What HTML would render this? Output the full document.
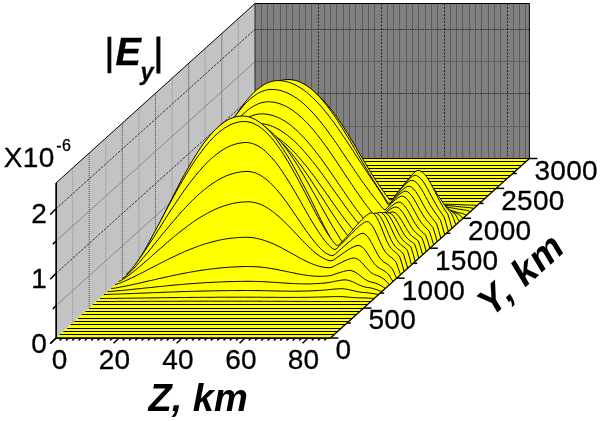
<!DOCTYPE html><html><head><meta charset="utf-8"><title>Ey</title><style>html,body{margin:0;padding:0;background:#fff}svg{display:block;will-change:transform}text{font-family:"Liberation Sans",sans-serif;fill:#000}.r{stroke:#000;stroke-width:0.3px;letter-spacing:0.3px}</style></head><body>
<svg width="600" height="421" viewBox="0 0 600 421">
<rect width="600" height="421" fill="#fff"/>
<polygon points="56.0,338.0 56.0,183.0 255.0,3.5 255.0,158.5" fill="#c3c3c3"/>
<rect x="255.0" y="3.5" width="274.4" height="155.0" fill="#808080"/>
<line x1="261.5" y1="3.5" x2="261.5" y2="158.5" stroke="#5c5c5c" stroke-width="1"/>
<line x1="267.5" y1="3.5" x2="267.5" y2="158.5" stroke="#5c5c5c" stroke-width="1"/>
<line x1="273.5" y1="3.5" x2="273.5" y2="158.5" stroke="#5c5c5c" stroke-width="1"/>
<line x1="280.5" y1="3.5" x2="280.5" y2="158.5" stroke="#5c5c5c" stroke-width="1"/>
<line x1="286.5" y1="3.5" x2="286.5" y2="158.5" stroke="#5c5c5c" stroke-width="1"/>
<line x1="292.5" y1="3.5" x2="292.5" y2="158.5" stroke="#5c5c5c" stroke-width="1"/>
<line x1="299.5" y1="3.5" x2="299.5" y2="158.5" stroke="#5c5c5c" stroke-width="1"/>
<line x1="305.5" y1="3.5" x2="305.5" y2="158.5" stroke="#5c5c5c" stroke-width="1"/>
<line x1="311.5" y1="3.5" x2="311.5" y2="158.5" stroke="#5c5c5c" stroke-width="1"/>
<line x1="318.5" y1="3.5" x2="318.5" y2="158.5" stroke="#242424" stroke-width="1" stroke-dasharray="2 1.5"/>
<line x1="324.5" y1="3.5" x2="324.5" y2="158.5" stroke="#5c5c5c" stroke-width="1"/>
<line x1="330.5" y1="3.5" x2="330.5" y2="158.5" stroke="#5c5c5c" stroke-width="1"/>
<line x1="336.5" y1="3.5" x2="336.5" y2="158.5" stroke="#5c5c5c" stroke-width="1"/>
<line x1="343.5" y1="3.5" x2="343.5" y2="158.5" stroke="#5c5c5c" stroke-width="1"/>
<line x1="349.5" y1="3.5" x2="349.5" y2="158.5" stroke="#5c5c5c" stroke-width="1"/>
<line x1="355.5" y1="3.5" x2="355.5" y2="158.5" stroke="#5c5c5c" stroke-width="1"/>
<line x1="362.5" y1="3.5" x2="362.5" y2="158.5" stroke="#5c5c5c" stroke-width="1"/>
<line x1="368.5" y1="3.5" x2="368.5" y2="158.5" stroke="#5c5c5c" stroke-width="1"/>
<line x1="374.5" y1="3.5" x2="374.5" y2="158.5" stroke="#5c5c5c" stroke-width="1"/>
<line x1="381.5" y1="3.5" x2="381.5" y2="158.5" stroke="#242424" stroke-width="1" stroke-dasharray="2 1.5"/>
<line x1="387.5" y1="3.5" x2="387.5" y2="158.5" stroke="#5c5c5c" stroke-width="1"/>
<line x1="393.5" y1="3.5" x2="393.5" y2="158.5" stroke="#5c5c5c" stroke-width="1"/>
<line x1="399.5" y1="3.5" x2="399.5" y2="158.5" stroke="#5c5c5c" stroke-width="1"/>
<line x1="406.5" y1="3.5" x2="406.5" y2="158.5" stroke="#5c5c5c" stroke-width="1"/>
<line x1="412.5" y1="3.5" x2="412.5" y2="158.5" stroke="#5c5c5c" stroke-width="1"/>
<line x1="418.5" y1="3.5" x2="418.5" y2="158.5" stroke="#5c5c5c" stroke-width="1"/>
<line x1="425.5" y1="3.5" x2="425.5" y2="158.5" stroke="#5c5c5c" stroke-width="1"/>
<line x1="431.5" y1="3.5" x2="431.5" y2="158.5" stroke="#5c5c5c" stroke-width="1"/>
<line x1="437.5" y1="3.5" x2="437.5" y2="158.5" stroke="#5c5c5c" stroke-width="1"/>
<line x1="444.5" y1="3.5" x2="444.5" y2="158.5" stroke="#242424" stroke-width="1" stroke-dasharray="2 1.5"/>
<line x1="450.5" y1="3.5" x2="450.5" y2="158.5" stroke="#5c5c5c" stroke-width="1"/>
<line x1="456.5" y1="3.5" x2="456.5" y2="158.5" stroke="#5c5c5c" stroke-width="1"/>
<line x1="462.5" y1="3.5" x2="462.5" y2="158.5" stroke="#5c5c5c" stroke-width="1"/>
<line x1="469.5" y1="3.5" x2="469.5" y2="158.5" stroke="#5c5c5c" stroke-width="1"/>
<line x1="475.5" y1="3.5" x2="475.5" y2="158.5" stroke="#5c5c5c" stroke-width="1"/>
<line x1="481.5" y1="3.5" x2="481.5" y2="158.5" stroke="#5c5c5c" stroke-width="1"/>
<line x1="488.5" y1="3.5" x2="488.5" y2="158.5" stroke="#5c5c5c" stroke-width="1"/>
<line x1="494.5" y1="3.5" x2="494.5" y2="158.5" stroke="#5c5c5c" stroke-width="1"/>
<line x1="500.5" y1="3.5" x2="500.5" y2="158.5" stroke="#5c5c5c" stroke-width="1"/>
<line x1="507.5" y1="3.5" x2="507.5" y2="158.5" stroke="#242424" stroke-width="1" stroke-dasharray="2 1.5"/>
<line x1="513.5" y1="3.5" x2="513.5" y2="158.5" stroke="#5c5c5c" stroke-width="1"/>
<line x1="519.5" y1="3.5" x2="519.5" y2="158.5" stroke="#5c5c5c" stroke-width="1"/>
<line x1="525.5" y1="3.5" x2="525.5" y2="158.5" stroke="#5c5c5c" stroke-width="1"/>
<line x1="255.0" y1="126.5" x2="529.4" y2="126.5" stroke="#606060" stroke-width="1"/>
<line x1="255.0" y1="93.5" x2="529.4" y2="93.5" stroke="#2c2c2c" stroke-width="1" stroke-dasharray="1.5 1"/>
<line x1="255.0" y1="61.5" x2="529.4" y2="61.5" stroke="#606060" stroke-width="1"/>
<line x1="255.0" y1="29.5" x2="529.4" y2="29.5" stroke="#2c2c2c" stroke-width="1" stroke-dasharray="1.5 1"/>
<line x1="72.6" y1="323.0" x2="72.6" y2="168.0" stroke="#8a8a8a" stroke-width="0.9" stroke-dasharray="1 1"/>
<line x1="89.2" y1="308.1" x2="89.2" y2="153.0" stroke="#484848" stroke-width="1" stroke-dasharray="1 1"/>
<line x1="105.8" y1="293.1" x2="105.8" y2="138.1" stroke="#8a8a8a" stroke-width="0.9" stroke-dasharray="1 1"/>
<line x1="122.3" y1="278.2" x2="122.3" y2="123.1" stroke="#484848" stroke-width="1" stroke-dasharray="1 1"/>
<line x1="138.9" y1="263.2" x2="138.9" y2="108.2" stroke="#8a8a8a" stroke-width="0.9" stroke-dasharray="1 1"/>
<line x1="155.5" y1="248.2" x2="155.5" y2="93.2" stroke="#484848" stroke-width="1" stroke-dasharray="1 1"/>
<line x1="172.1" y1="233.3" x2="172.1" y2="78.3" stroke="#8a8a8a" stroke-width="0.9" stroke-dasharray="1 1"/>
<line x1="188.7" y1="218.3" x2="188.7" y2="63.3" stroke="#484848" stroke-width="1" stroke-dasharray="1 1"/>
<line x1="205.2" y1="203.4" x2="205.2" y2="48.3" stroke="#8a8a8a" stroke-width="0.9" stroke-dasharray="1 1"/>
<line x1="221.8" y1="188.4" x2="221.8" y2="33.4" stroke="#484848" stroke-width="1" stroke-dasharray="1 1"/>
<line x1="238.4" y1="173.5" x2="238.4" y2="18.4" stroke="#8a8a8a" stroke-width="0.9" stroke-dasharray="1 1"/>
<line x1="56.0" y1="305.7" x2="255.0" y2="126.2" stroke="#7a7a7a" stroke-width="0.8"/>
<line x1="56.0" y1="273.4" x2="255.0" y2="93.9" stroke="#333" stroke-width="1" stroke-dasharray="2.5 1.3"/>
<line x1="56.0" y1="241.1" x2="255.0" y2="61.6" stroke="#7a7a7a" stroke-width="0.8"/>
<line x1="56.0" y1="208.8" x2="255.0" y2="29.3" stroke="#333" stroke-width="1" stroke-dasharray="2.5 1.3"/>
<polyline points="56.0,338.0 56.0,183.0 255.0,3.5 529.4,3.5 529.4,158.5" fill="none" stroke="#000" stroke-width="1"/>
<line x1="255.0" y1="3.5" x2="255.0" y2="158.5" stroke="#222" stroke-width="1"/>
<line x1="56.3" y1="338.0" x2="56.3" y2="183.0" stroke="#000" stroke-width="1.4"/>
<polygon points="56.0,338.0 255.0,158.5 529.4,158.5 330.4,338.0" fill="#ffff00"/>
<path d="M255,158.5 L255,158.5 L529.4,158.5 L529.4,158.5 Z" fill="#ffff00"/>
<polyline points="255,158.5 529.4,158.5" fill="none" stroke="#000" stroke-width="1" stroke-linejoin="round"/>
<path d="M251.3,161.5 L251.3,161.5 L525.7,161.5 L525.7,161.5 Z" fill="#ffff00"/>
<polyline points="251.3,161.5 525.7,161.5" fill="none" stroke="#000" stroke-width="1" stroke-linejoin="round"/>
<path d="M247.6,165.5 L247.6,165.5 L522,165.5 L522,165.5 Z" fill="#ffff00"/>
<polyline points="247.6,165.5 522,165.5" fill="none" stroke="#000" stroke-width="1" stroke-linejoin="round"/>
<path d="M243.9,168.5 L243.9,168.5 L518.3,168.5 L518.3,168.5 Z" fill="#ffff00"/>
<polyline points="243.9,168.5 518.3,168.5" fill="none" stroke="#000" stroke-width="1" stroke-linejoin="round"/>
<path d="M240.3,171.5 L240.3,171.5 L514.6,171.5 L514.6,171.5 Z" fill="#ffff00"/>
<polyline points="240.3,171.5 514.6,171.5" fill="none" stroke="#000" stroke-width="1" stroke-linejoin="round"/>
<path d="M236.6,175.5 L236.6,175.5 L510.9,175.5 L510.9,175.5 Z" fill="#ffff00"/>
<polyline points="236.6,175.5 510.9,175.5" fill="none" stroke="#000" stroke-width="1" stroke-linejoin="round"/>
<path d="M232.9,178.5 L232.9,178.5 L507.3,178.5 L507.3,178.5 Z" fill="#ffff00"/>
<polyline points="232.9,178.5 507.3,178.5" fill="none" stroke="#000" stroke-width="1" stroke-linejoin="round"/>
<path d="M229.2,181.5 L229.2,181.5 L503.6,181.5 L503.6,181.5 Z" fill="#ffff00"/>
<polyline points="229.2,181.5 503.6,181.5" fill="none" stroke="#000" stroke-width="1" stroke-linejoin="round"/>
<path d="M225.5,185.5 L225.5,185.5 L499.9,185.5 L499.9,185.5 Z" fill="#ffff00"/>
<polyline points="225.5,185.5 499.9,185.5" fill="none" stroke="#000" stroke-width="1" stroke-linejoin="round"/>
<path d="M221.8,188.5 L221.8,188.5 L496.2,188.5 L496.2,188.5 Z" fill="#ffff00"/>
<polyline points="221.8,188.5 496.2,188.5" fill="none" stroke="#000" stroke-width="1" stroke-linejoin="round"/>
<path d="M218.1,191.5 L218.1,191.5 L492.5,191.5 L492.5,191.5 Z" fill="#ffff00"/>
<polyline points="218.1,191.5 492.5,191.5" fill="none" stroke="#000" stroke-width="1" stroke-linejoin="round"/>
<path d="M214.5,195.5 L214.5,195.5 L488.8,195.5 L488.8,195.5 Z" fill="#ffff00"/>
<polyline points="214.5,195.5 488.8,195.5" fill="none" stroke="#000" stroke-width="1" stroke-linejoin="round"/>
<path d="M210.8,198.5 L210.8,198.5 L485.1,198.5 L485.1,198.5 Z" fill="#ffff00"/>
<polyline points="210.8,198.5 485.1,198.5" fill="none" stroke="#000" stroke-width="1" stroke-linejoin="round"/>
<path d="M207.1,201.5 L207.1,201.5 L209.2,201.5 L211.3,201.5 L213.4,201.5 L215.5,201.5 L217.6,201.5 L219.8,201.5 L221.9,201.4 L224,201.4 L226.1,201.4 L228.2,201.4 L230.3,201.4 L232.4,201.4 L234.5,201.4 L236.6,201.3 L238.8,201.3 L240.9,201.3 L243,201.3 L245.1,201.3 L247.2,201.3 L249.3,201.3 L251.4,201.2 L253.5,201.2 L255.6,201.2 L257.7,201.2 L259.9,201.2 L262,201.2 L264.1,201.1 L266.2,201.1 L268.3,201.1 L270.4,201.1 L272.5,201.1 L274.6,201.1 L276.7,201.1 L278.8,201 L281,201 L283.1,201 L285.2,201 L287.3,201 L289.4,201 L291.5,201 L293.6,201 L295.7,200.9 L297.8,200.9 L300,200.9 L302.1,200.9 L304.2,200.9 L306.3,200.9 L308.4,200.9 L310.5,200.9 L312.6,200.9 L314.7,200.9 L316.8,200.9 L318.9,200.9 L321.1,200.9 L323.2,200.9 L325.3,200.9 L327.4,200.9 L329.5,200.9 L331.6,200.9 L333.7,200.9 L335.8,200.9 L337.9,200.9 L340.1,200.9 L342.2,200.9 L344.3,200.9 L346.4,200.9 L348.5,200.9 L350.6,200.9 L352.7,200.9 L354.8,200.9 L356.9,200.9 L359,201 L361.2,201 L363.3,201 L365.4,201 L367.5,201 L369.6,201.1 L371.7,201.1 L373.8,201.1 L375.9,201.1 L378,201.2 L380.2,201.2 L382.3,201.2 L384.4,201.2 L386.5,201.3 L388.6,201.3 L390.7,201.3 L392.8,201.4 L394.9,201.4 L397,201.4 L399.1,201.5 L401.3,201.5 L403.4,201.5 L405.5,201.5 L407.6,201.5 L409.7,201.5 L411.8,201.5 L413.9,201.5 L416,201.5 L418.1,201.5 L420.3,201.5 L422.4,201.5 L424.5,201.5 L426.6,201.5 L428.7,201.5 L430.8,201.5 L432.9,201.5 L435,201.5 L437.1,201.5 L439.2,201.5 L441.4,201.5 L443.5,201.5 L445.6,201.5 L447.7,201.5 L449.8,201.5 L451.9,201.5 L454,201.5 L456.1,201.5 L458.2,201.5 L460.4,201.5 L462.5,201.5 L464.6,201.5 L466.7,201.5 L468.8,201.5 L470.9,201.5 L473,201.5 L475.1,201.5 L477.2,201.5 L479.3,201.5 L481.5,201.5 L481.5,201.5 Z" fill="#ffff00"/>
<polyline points="207.1,201.5 209.2,201.5 211.3,201.5 213.4,201.5 215.5,201.5 217.6,201.5 219.8,201.5 221.9,201.4 224,201.4 226.1,201.4 228.2,201.4 230.3,201.4 232.4,201.4 234.5,201.4 236.6,201.3 238.8,201.3 240.9,201.3 243,201.3 245.1,201.3 247.2,201.3 249.3,201.3 251.4,201.2 253.5,201.2 255.6,201.2 257.7,201.2 259.9,201.2 262,201.2 264.1,201.1 266.2,201.1 268.3,201.1 270.4,201.1 272.5,201.1 274.6,201.1 276.7,201.1 278.8,201 281,201 283.1,201 285.2,201 287.3,201 289.4,201 291.5,201 293.6,201 295.7,200.9 297.8,200.9 300,200.9 302.1,200.9 304.2,200.9 306.3,200.9 308.4,200.9 310.5,200.9 312.6,200.9 314.7,200.9 316.8,200.9 318.9,200.9 321.1,200.9 323.2,200.9 325.3,200.9 327.4,200.9 329.5,200.9 331.6,200.9 333.7,200.9 335.8,200.9 337.9,200.9 340.1,200.9 342.2,200.9 344.3,200.9 346.4,200.9 348.5,200.9 350.6,200.9 352.7,200.9 354.8,200.9 356.9,200.9 359,201 361.2,201 363.3,201 365.4,201 367.5,201 369.6,201.1 371.7,201.1 373.8,201.1 375.9,201.1 378,201.2 380.2,201.2 382.3,201.2 384.4,201.2 386.5,201.3 388.6,201.3 390.7,201.3 392.8,201.4 394.9,201.4 397,201.4 399.1,201.5 401.3,201.5 403.4,201.5 405.5,201.5 407.6,201.5 409.7,201.5 411.8,201.5 413.9,201.5 416,201.5 418.1,201.5 420.3,201.5 422.4,201.5 424.5,201.5 426.6,201.5 428.7,201.5 430.8,201.5 432.9,201.5 435,201.5 437.1,201.5 439.2,201.5 441.4,201.5 443.5,201.5 445.6,201.5 447.7,201.5 449.8,201.5 451.9,201.5 454,201.5 456.1,201.5 458.2,201.5 460.4,201.5 462.5,201.5 464.6,201.5 466.7,201.5 468.8,201.5 470.9,201.5 473,201.5 475.1,201.5 477.2,201.5 479.3,201.5 481.5,201.5" fill="none" stroke="#000" stroke-width="1" stroke-linejoin="round"/>
<path d="M203.4,205.5 L203.4,205.5 L205.5,205.5 L207.6,205.4 L209.7,205.4 L211.8,205.3 L214,205.3 L216.1,205.2 L218.2,205.1 L220.3,205.1 L222.4,205 L224.5,204.9 L226.6,204.8 L228.7,204.7 L230.8,204.7 L233,204.6 L235.1,204.5 L237.2,204.4 L239.3,204.3 L241.4,204.2 L243.5,204.1 L245.6,204 L247.7,203.9 L249.8,203.8 L251.9,203.7 L254.1,203.6 L256.2,203.5 L258.3,203.4 L260.4,203.4 L262.5,203.3 L264.6,203.2 L266.7,203.1 L268.8,203 L270.9,202.9 L273.1,202.8 L275.2,202.7 L277.3,202.7 L279.4,202.6 L281.5,202.5 L283.6,202.4 L285.7,202.4 L287.8,202.3 L289.9,202.2 L292,202.2 L294.2,202.1 L296.3,202.1 L298.4,202 L300.5,202 L302.6,201.9 L304.7,201.9 L306.8,201.8 L308.9,201.8 L311,201.8 L313.2,201.7 L315.3,201.7 L317.4,201.7 L319.5,201.7 L321.6,201.6 L323.7,201.6 L325.8,201.6 L327.9,201.6 L330,201.6 L332.1,201.6 L334.3,201.7 L336.4,201.7 L338.5,201.7 L340.6,201.8 L342.7,201.8 L344.8,201.9 L346.9,201.9 L349,202 L351.1,202.1 L353.3,202.2 L355.4,202.3 L357.5,202.4 L359.6,202.5 L361.7,202.6 L363.8,202.7 L365.9,202.8 L368,203 L370.1,203.1 L372.2,203.2 L374.4,203.4 L376.5,203.5 L378.6,203.7 L380.7,203.8 L382.8,204 L384.9,204.1 L387,204.3 L389.1,204.4 L391.2,204.6 L393.4,204.8 L395.5,204.9 L397.6,205.1 L399.7,205.2 L401.8,205.2 L403.9,205.2 L406,205.1 L408.1,205.1 L410.2,205 L412.3,205 L414.5,204.9 L416.6,204.9 L418.7,204.8 L420.8,204.8 L422.9,204.7 L425,204.7 L427.1,204.6 L429.2,204.5 L431.3,204.5 L433.5,204.4 L435.6,204.4 L437.7,204.3 L439.8,204.3 L441.9,204.2 L444,204.2 L446.1,204.2 L448.2,204.2 L450.3,204.3 L452.4,204.4 L454.6,204.4 L456.7,204.5 L458.8,204.6 L460.9,204.7 L463,204.8 L465.1,204.9 L467.2,205 L469.3,205 L471.4,205.1 L473.6,205.2 L475.7,205.3 L477.8,205.5 L477.8,205.5 Z" fill="#ffff00"/>
<polyline points="203.4,205.5 205.5,205.5 207.6,205.4 209.7,205.4 211.8,205.3 214,205.3 216.1,205.2 218.2,205.1 220.3,205.1 222.4,205 224.5,204.9 226.6,204.8 228.7,204.7 230.8,204.7 233,204.6 235.1,204.5 237.2,204.4 239.3,204.3 241.4,204.2 243.5,204.1 245.6,204 247.7,203.9 249.8,203.8 251.9,203.7 254.1,203.6 256.2,203.5 258.3,203.4 260.4,203.4 262.5,203.3 264.6,203.2 266.7,203.1 268.8,203 270.9,202.9 273.1,202.8 275.2,202.7 277.3,202.7 279.4,202.6 281.5,202.5 283.6,202.4 285.7,202.4 287.8,202.3 289.9,202.2 292,202.2 294.2,202.1 296.3,202.1 298.4,202 300.5,202 302.6,201.9 304.7,201.9 306.8,201.8 308.9,201.8 311,201.8 313.2,201.7 315.3,201.7 317.4,201.7 319.5,201.7 321.6,201.6 323.7,201.6 325.8,201.6 327.9,201.6 330,201.6 332.1,201.6 334.3,201.7 336.4,201.7 338.5,201.7 340.6,201.8 342.7,201.8 344.8,201.9 346.9,201.9 349,202 351.1,202.1 353.3,202.2 355.4,202.3 357.5,202.4 359.6,202.5 361.7,202.6 363.8,202.7 365.9,202.8 368,203 370.1,203.1 372.2,203.2 374.4,203.4 376.5,203.5 378.6,203.7 380.7,203.8 382.8,204 384.9,204.1 387,204.3 389.1,204.4 391.2,204.6 393.4,204.8 395.5,204.9 397.6,205.1 399.7,205.2 401.8,205.2 403.9,205.2 406,205.1 408.1,205.1 410.2,205 412.3,205 414.5,204.9 416.6,204.9 418.7,204.8 420.8,204.8 422.9,204.7 425,204.7 427.1,204.6 429.2,204.5 431.3,204.5 433.5,204.4 435.6,204.4 437.7,204.3 439.8,204.3 441.9,204.2 444,204.2 446.1,204.2 448.2,204.2 450.3,204.3 452.4,204.4 454.6,204.4 456.7,204.5 458.8,204.6 460.9,204.7 463,204.8 465.1,204.9 467.2,205 469.3,205 471.4,205.1 473.6,205.2 475.7,205.3 477.8,205.5" fill="none" stroke="#000" stroke-width="1" stroke-linejoin="round"/>
<path d="M199.7,208.5 L199.7,208.5 L201.8,208.4 L203.9,208.3 L206.1,208.2 L208.2,208.1 L210.3,207.9 L212.4,207.7 L214.5,207.5 L216.6,207.3 L218.7,207.1 L220.8,206.9 L222.9,206.7 L225,206.5 L227.2,206.2 L229.3,206 L231.4,205.8 L233.5,205.5 L235.6,205.3 L237.7,205 L239.8,204.8 L241.9,204.5 L244,204.3 L246.2,204 L248.3,203.8 L250.4,203.5 L252.5,203.3 L254.6,203 L256.7,202.8 L258.8,202.5 L260.9,202.3 L263,202.1 L265.1,201.8 L267.3,201.6 L269.4,201.4 L271.5,201.2 L273.6,200.9 L275.7,200.7 L277.8,200.5 L279.9,200.3 L282,200.1 L284.1,200 L286.3,199.8 L288.4,199.6 L290.5,199.5 L292.6,199.3 L294.7,199.2 L296.8,199 L298.9,198.9 L301,198.8 L303.1,198.7 L305.2,198.6 L307.4,198.5 L309.5,198.4 L311.6,198.4 L313.7,198.3 L315.8,198.3 L317.9,198.2 L320,198.2 L322.1,198.2 L324.2,198.2 L326.4,198.2 L328.5,198.2 L330.6,198.2 L332.7,198.3 L334.8,198.4 L336.9,198.5 L339,198.6 L341.1,198.8 L343.2,199 L345.3,199.1 L347.5,199.4 L349.6,199.6 L351.7,199.8 L353.8,200.1 L355.9,200.4 L358,200.7 L360.1,201 L362.2,201.3 L364.3,201.6 L366.5,202 L368.6,202.4 L370.7,202.7 L372.8,203.1 L374.9,203.5 L377,203.9 L379.1,204.3 L381.2,204.7 L383.3,205.1 L385.4,205.5 L387.6,205.9 L389.7,206.4 L391.8,206.8 L393.9,207.2 L396,207.6 L398.1,207.7 L400.2,207.7 L402.3,207.6 L404.4,207.5 L406.6,207.4 L408.7,207.2 L410.8,207.1 L412.9,207 L415,206.8 L417.1,206.7 L419.2,206.6 L421.3,206.4 L423.4,206.3 L425.5,206.1 L427.7,205.9 L429.8,205.8 L431.9,205.6 L434,205.5 L436.1,205.4 L438.2,205.3 L440.3,205.3 L442.4,205.3 L444.5,205.4 L446.7,205.5 L448.8,205.6 L450.9,205.8 L453,206 L455.1,206.2 L457.2,206.5 L459.3,206.7 L461.4,206.9 L463.5,207.1 L465.6,207.3 L467.8,207.5 L469.9,207.7 L472,208.1 L474.1,208.5 L474.1,208.5 Z" fill="#ffff00"/>
<polyline points="199.7,208.5 201.8,208.4 203.9,208.3 206.1,208.2 208.2,208.1 210.3,207.9 212.4,207.7 214.5,207.5 216.6,207.3 218.7,207.1 220.8,206.9 222.9,206.7 225,206.5 227.2,206.2 229.3,206 231.4,205.8 233.5,205.5 235.6,205.3 237.7,205 239.8,204.8 241.9,204.5 244,204.3 246.2,204 248.3,203.8 250.4,203.5 252.5,203.3 254.6,203 256.7,202.8 258.8,202.5 260.9,202.3 263,202.1 265.1,201.8 267.3,201.6 269.4,201.4 271.5,201.2 273.6,200.9 275.7,200.7 277.8,200.5 279.9,200.3 282,200.1 284.1,200 286.3,199.8 288.4,199.6 290.5,199.5 292.6,199.3 294.7,199.2 296.8,199 298.9,198.9 301,198.8 303.1,198.7 305.2,198.6 307.4,198.5 309.5,198.4 311.6,198.4 313.7,198.3 315.8,198.3 317.9,198.2 320,198.2 322.1,198.2 324.2,198.2 326.4,198.2 328.5,198.2 330.6,198.2 332.7,198.3 334.8,198.4 336.9,198.5 339,198.6 341.1,198.8 343.2,199 345.3,199.1 347.5,199.4 349.6,199.6 351.7,199.8 353.8,200.1 355.9,200.4 358,200.7 360.1,201 362.2,201.3 364.3,201.6 366.5,202 368.6,202.4 370.7,202.7 372.8,203.1 374.9,203.5 377,203.9 379.1,204.3 381.2,204.7 383.3,205.1 385.4,205.5 387.6,205.9 389.7,206.4 391.8,206.8 393.9,207.2 396,207.6 398.1,207.7 400.2,207.7 402.3,207.6 404.4,207.5 406.6,207.4 408.7,207.2 410.8,207.1 412.9,207 415,206.8 417.1,206.7 419.2,206.6 421.3,206.4 423.4,206.3 425.5,206.1 427.7,205.9 429.8,205.8 431.9,205.6 434,205.5 436.1,205.4 438.2,205.3 440.3,205.3 442.4,205.3 444.5,205.4 446.7,205.5 448.8,205.6 450.9,205.8 453,206 455.1,206.2 457.2,206.5 459.3,206.7 461.4,206.9 463.5,207.1 465.6,207.3 467.8,207.5 469.9,207.7 472,208.1 474.1,208.5" fill="none" stroke="#000" stroke-width="1" stroke-linejoin="round"/>
<path d="M196,211.5 L196,211.5 L198.1,211.4 L200.3,211.2 L202.4,210.9 L204.5,210.6 L206.6,210.2 L208.7,209.9 L210.8,209.5 L212.9,209.1 L215,208.7 L217.1,208.2 L219.3,207.8 L221.4,207.3 L223.5,206.8 L225.6,206.4 L227.7,205.9 L229.8,205.4 L231.9,204.8 L234,204.3 L236.1,203.8 L238.2,203.3 L240.4,202.8 L242.5,202.3 L244.6,201.7 L246.7,201.2 L248.8,200.7 L250.9,200.2 L253,199.7 L255.1,199.2 L257.2,198.7 L259.4,198.2 L261.5,197.7 L263.6,197.3 L265.7,196.8 L267.8,196.3 L269.9,195.9 L272,195.5 L274.1,195.1 L276.2,194.7 L278.3,194.3 L280.5,193.9 L282.6,193.5 L284.7,193.2 L286.8,192.9 L288.9,192.6 L291,192.3 L293.1,192 L295.2,191.7 L297.3,191.5 L299.5,191.3 L301.6,191.1 L303.7,190.9 L305.8,190.7 L307.9,190.6 L310,190.5 L312.1,190.4 L314.2,190.3 L316.3,190.2 L318.4,190.2 L320.6,190.2 L322.7,190.2 L324.8,190.2 L326.9,190.3 L329,190.5 L331.1,190.6 L333.2,190.9 L335.3,191.1 L337.4,191.4 L339.6,191.8 L341.7,192.2 L343.8,192.6 L345.9,193 L348,193.5 L350.1,194.1 L352.2,194.6 L354.3,195.2 L356.4,195.9 L358.5,196.5 L360.7,197.2 L362.8,197.9 L364.9,198.7 L367,199.4 L369.1,200.2 L371.2,201 L373.3,201.8 L375.4,202.6 L377.5,203.5 L379.7,204.3 L381.8,205.2 L383.9,206 L386,206.9 L388.1,207.7 L390.2,208.6 L392.3,209.4 L394.4,210.3 L396.5,210.1 L398.6,210 L400.8,209.8 L402.9,209.7 L405,209.5 L407.1,209.3 L409.2,209.1 L411.3,208.9 L413.4,208.6 L415.5,208.4 L417.6,208.1 L419.8,207.9 L421.9,207.7 L424,207.4 L426.1,207.2 L428.2,206.9 L430.3,206.7 L432.4,206.5 L434.5,206.4 L436.6,206.3 L438.7,206.4 L440.9,206.5 L443,206.7 L445.1,206.9 L447.2,207.2 L449.3,207.5 L451.4,207.9 L453.5,208.2 L455.6,208.6 L457.7,209 L459.8,209.3 L462,209.7 L464.1,210 L466.2,210.2 L468.3,210.8 L470.4,211.5 L470.4,211.5 Z" fill="#ffff00"/>
<polyline points="196,211.5 198.1,211.4 200.3,211.2 202.4,210.9 204.5,210.6 206.6,210.2 208.7,209.9 210.8,209.5 212.9,209.1 215,208.7 217.1,208.2 219.3,207.8 221.4,207.3 223.5,206.8 225.6,206.4 227.7,205.9 229.8,205.4 231.9,204.8 234,204.3 236.1,203.8 238.2,203.3 240.4,202.8 242.5,202.3 244.6,201.7 246.7,201.2 248.8,200.7 250.9,200.2 253,199.7 255.1,199.2 257.2,198.7 259.4,198.2 261.5,197.7 263.6,197.3 265.7,196.8 267.8,196.3 269.9,195.9 272,195.5 274.1,195.1 276.2,194.7 278.3,194.3 280.5,193.9 282.6,193.5 284.7,193.2 286.8,192.9 288.9,192.6 291,192.3 293.1,192 295.2,191.7 297.3,191.5 299.5,191.3 301.6,191.1 303.7,190.9 305.8,190.7 307.9,190.6 310,190.5 312.1,190.4 314.2,190.3 316.3,190.2 318.4,190.2 320.6,190.2 322.7,190.2 324.8,190.2 326.9,190.3 329,190.5 331.1,190.6 333.2,190.9 335.3,191.1 337.4,191.4 339.6,191.8 341.7,192.2 343.8,192.6 345.9,193 348,193.5 350.1,194.1 352.2,194.6 354.3,195.2 356.4,195.9 358.5,196.5 360.7,197.2 362.8,197.9 364.9,198.7 367,199.4 369.1,200.2 371.2,201 373.3,201.8 375.4,202.6 377.5,203.5 379.7,204.3 381.8,205.2 383.9,206 386,206.9 388.1,207.7 390.2,208.6 392.3,209.4 394.4,210.3 396.5,210.1 398.6,210 400.8,209.8 402.9,209.7 405,209.5 407.1,209.3 409.2,209.1 411.3,208.9 413.4,208.6 415.5,208.4 417.6,208.1 419.8,207.9 421.9,207.7 424,207.4 426.1,207.2 428.2,206.9 430.3,206.7 432.4,206.5 434.5,206.4 436.6,206.3 438.7,206.4 440.9,206.5 443,206.7 445.1,206.9 447.2,207.2 449.3,207.5 451.4,207.9 453.5,208.2 455.6,208.6 457.7,209 459.8,209.3 462,209.7 464.1,210 466.2,210.2 468.3,210.8 470.4,211.5" fill="none" stroke="#000" stroke-width="1" stroke-linejoin="round"/>
<path d="M192.4,215.5 L192.4,215.5 L194.5,215.3 L196.6,214.9 L198.7,214.5 L200.8,213.9 L202.9,213.4 L205,212.8 L207.1,212.1 L209.2,211.4 L211.3,210.7 L213.5,210 L215.6,209.2 L217.7,208.4 L219.8,207.6 L221.9,206.8 L224,205.9 L226.1,205.1 L228.2,204.2 L230.3,203.3 L232.5,202.5 L234.6,201.6 L236.7,200.7 L238.8,199.8 L240.9,198.9 L243,198 L245.1,197.2 L247.2,196.3 L249.3,195.4 L251.4,194.6 L253.6,193.8 L255.7,192.9 L257.8,192.1 L259.9,191.3 L262,190.5 L264.1,189.8 L266.2,189 L268.3,188.3 L270.4,187.6 L272.6,186.9 L274.7,186.2 L276.8,185.6 L278.9,185 L281,184.4 L283.1,183.9 L285.2,183.3 L287.3,182.8 L289.4,182.4 L291.5,181.9 L293.7,181.5 L295.8,181.2 L297.9,180.8 L300,180.5 L302.1,180.3 L304.2,180 L306.3,179.8 L308.4,179.6 L310.5,179.5 L312.7,179.4 L314.8,179.3 L316.9,179.3 L319,179.3 L321.1,179.4 L323.2,179.6 L325.3,179.8 L327.4,180.1 L329.5,180.4 L331.6,180.8 L333.8,181.3 L335.9,181.9 L338,182.5 L340.1,183.2 L342.2,183.9 L344.3,184.7 L346.4,185.6 L348.5,186.5 L350.6,187.4 L352.7,188.4 L354.9,189.5 L357,190.6 L359.1,191.7 L361.2,192.9 L363.3,194.1 L365.4,195.4 L367.5,196.6 L369.6,198 L371.7,199.3 L373.9,200.6 L376,202 L378.1,203.4 L380.2,204.8 L382.3,206.2 L384.4,207.6 L386.5,209 L388.6,210.3 L390.7,211.7 L392.8,213.1 L395,213.1 L397.1,212.8 L399.2,212.5 L401.3,212.2 L403.4,211.9 L405.5,211.6 L407.6,211.2 L409.7,210.8 L411.8,210.4 L414,210.1 L416.1,209.7 L418.2,209.2 L420.3,208.8 L422.4,208.5 L424.5,208.1 L426.6,207.7 L428.7,207.4 L430.8,207.2 L432.9,207.1 L435.1,207.2 L437.2,207.4 L439.3,207.7 L441.4,208 L443.5,208.5 L445.6,209 L447.7,209.6 L449.8,210.2 L451.9,210.8 L454.1,211.4 L456.2,212 L458.3,212.5 L460.4,213 L462.5,213.4 L464.6,214.4 L466.7,215.5 L466.7,215.5 Z" fill="#ffff00"/>
<polyline points="192.4,215.5 194.5,215.3 196.6,214.9 198.7,214.5 200.8,213.9 202.9,213.4 205,212.8 207.1,212.1 209.2,211.4 211.3,210.7 213.5,210 215.6,209.2 217.7,208.4 219.8,207.6 221.9,206.8 224,205.9 226.1,205.1 228.2,204.2 230.3,203.3 232.5,202.5 234.6,201.6 236.7,200.7 238.8,199.8 240.9,198.9 243,198 245.1,197.2 247.2,196.3 249.3,195.4 251.4,194.6 253.6,193.8 255.7,192.9 257.8,192.1 259.9,191.3 262,190.5 264.1,189.8 266.2,189 268.3,188.3 270.4,187.6 272.6,186.9 274.7,186.2 276.8,185.6 278.9,185 281,184.4 283.1,183.9 285.2,183.3 287.3,182.8 289.4,182.4 291.5,181.9 293.7,181.5 295.8,181.2 297.9,180.8 300,180.5 302.1,180.3 304.2,180 306.3,179.8 308.4,179.6 310.5,179.5 312.7,179.4 314.8,179.3 316.9,179.3 319,179.3 321.1,179.4 323.2,179.6 325.3,179.8 327.4,180.1 329.5,180.4 331.6,180.8 333.8,181.3 335.9,181.9 338,182.5 340.1,183.2 342.2,183.9 344.3,184.7 346.4,185.6 348.5,186.5 350.6,187.4 352.7,188.4 354.9,189.5 357,190.6 359.1,191.7 361.2,192.9 363.3,194.1 365.4,195.4 367.5,196.6 369.6,198 371.7,199.3 373.9,200.6 376,202 378.1,203.4 380.2,204.8 382.3,206.2 384.4,207.6 386.5,209 388.6,210.3 390.7,211.7 392.8,213.1 395,213.1 397.1,212.8 399.2,212.5 401.3,212.2 403.4,211.9 405.5,211.6 407.6,211.2 409.7,210.8 411.8,210.4 414,210.1 416.1,209.7 418.2,209.2 420.3,208.8 422.4,208.5 424.5,208.1 426.6,207.7 428.7,207.4 430.8,207.2 432.9,207.1 435.1,207.2 437.2,207.4 439.3,207.7 441.4,208 443.5,208.5 445.6,209 447.7,209.6 449.8,210.2 451.9,210.8 454.1,211.4 456.2,212 458.3,212.5 460.4,213 462.5,213.4 464.6,214.4 466.7,215.5" fill="none" stroke="#000" stroke-width="1" stroke-linejoin="round"/>
<path d="M188.7,218.5 L188.7,218.5 L190.8,218.2 L192.9,217.6 L195,217 L197.1,216.2 L199.2,215.4 L201.3,214.5 L203.4,213.5 L205.6,212.5 L207.7,211.5 L209.8,210.4 L211.9,209.2 L214,208.1 L216.1,206.9 L218.2,205.7 L220.3,204.5 L222.4,203.2 L224.5,201.9 L226.7,200.7 L228.8,199.4 L230.9,198.1 L233,196.8 L235.1,195.5 L237.2,194.2 L239.3,192.9 L241.4,191.7 L243.5,190.4 L245.7,189.1 L247.8,187.9 L249.9,186.6 L252,185.4 L254.1,184.2 L256.2,183.1 L258.3,181.9 L260.4,180.8 L262.5,179.7 L264.6,178.6 L266.8,177.6 L268.9,176.6 L271,175.6 L273.1,174.7 L275.2,173.8 L277.3,173 L279.4,172.2 L281.5,171.4 L283.6,170.7 L285.7,170 L287.9,169.4 L290,168.8 L292.1,168.2 L294.2,167.7 L296.3,167.3 L298.4,166.9 L300.5,166.5 L302.6,166.2 L304.7,166 L306.9,165.8 L309,165.6 L311.1,165.5 L313.2,165.5 L315.3,165.5 L317.4,165.6 L319.5,165.9 L321.6,166.2 L323.7,166.6 L325.8,167 L328,167.6 L330.1,168.3 L332.2,169 L334.3,169.9 L336.4,170.8 L338.5,171.8 L340.6,172.9 L342.7,174.1 L344.8,175.3 L347,176.6 L349.1,178 L351.2,179.4 L353.3,180.9 L355.4,182.5 L357.5,184.1 L359.6,185.8 L361.7,187.5 L363.8,189.2 L365.9,191 L368.1,192.8 L370.2,194.6 L372.3,196.5 L374.4,198.3 L376.5,200.2 L378.6,202.1 L380.7,204 L382.8,205.8 L384.9,207.7 L387.1,209.5 L389.2,211.3 L391.3,213 L393.4,213.1 L395.5,212.5 L397.6,211.9 L399.7,211.3 L401.8,210.6 L403.9,209.9 L406,209.2 L408.2,208.4 L410.3,207.6 L412.4,206.8 L414.5,206 L416.6,205.2 L418.7,204.4 L420.8,203.7 L422.9,203 L425,202.4 L427.2,201.9 L429.3,201.7 L431.4,201.9 L433.5,202.2 L435.6,202.8 L437.7,203.6 L439.8,204.5 L441.9,205.6 L444,206.7 L446.1,207.9 L448.3,209.1 L450.4,210.3 L452.5,211.4 L454.6,212.5 L456.7,213.5 L458.8,214.4 L460.9,216.2 L463,218.5 L463,218.5 Z" fill="#ffff00"/>
<polyline points="188.7,218.5 190.8,218.2 192.9,217.6 195,217 197.1,216.2 199.2,215.4 201.3,214.5 203.4,213.5 205.6,212.5 207.7,211.5 209.8,210.4 211.9,209.2 214,208.1 216.1,206.9 218.2,205.7 220.3,204.5 222.4,203.2 224.5,201.9 226.7,200.7 228.8,199.4 230.9,198.1 233,196.8 235.1,195.5 237.2,194.2 239.3,192.9 241.4,191.7 243.5,190.4 245.7,189.1 247.8,187.9 249.9,186.6 252,185.4 254.1,184.2 256.2,183.1 258.3,181.9 260.4,180.8 262.5,179.7 264.6,178.6 266.8,177.6 268.9,176.6 271,175.6 273.1,174.7 275.2,173.8 277.3,173 279.4,172.2 281.5,171.4 283.6,170.7 285.7,170 287.9,169.4 290,168.8 292.1,168.2 294.2,167.7 296.3,167.3 298.4,166.9 300.5,166.5 302.6,166.2 304.7,166 306.9,165.8 309,165.6 311.1,165.5 313.2,165.5 315.3,165.5 317.4,165.6 319.5,165.9 321.6,166.2 323.7,166.6 325.8,167 328,167.6 330.1,168.3 332.2,169 334.3,169.9 336.4,170.8 338.5,171.8 340.6,172.9 342.7,174.1 344.8,175.3 347,176.6 349.1,178 351.2,179.4 353.3,180.9 355.4,182.5 357.5,184.1 359.6,185.8 361.7,187.5 363.8,189.2 365.9,191 368.1,192.8 370.2,194.6 372.3,196.5 374.4,198.3 376.5,200.2 378.6,202.1 380.7,204 382.8,205.8 384.9,207.7 387.1,209.5 389.2,211.3 391.3,213 393.4,213.1 395.5,212.5 397.6,211.9 399.7,211.3 401.8,210.6 403.9,209.9 406,209.2 408.2,208.4 410.3,207.6 412.4,206.8 414.5,206 416.6,205.2 418.7,204.4 420.8,203.7 422.9,203 425,202.4 427.2,201.9 429.3,201.7 431.4,201.9 433.5,202.2 435.6,202.8 437.7,203.6 439.8,204.5 441.9,205.6 444,206.7 446.1,207.9 448.3,209.1 450.4,210.3 452.5,211.4 454.6,212.5 456.7,213.5 458.8,214.4 460.9,216.2 463,218.5" fill="none" stroke="#000" stroke-width="1" stroke-linejoin="round"/>
<path d="M185,221.5 L185,221.5 L187.1,221.1 L189.2,220.3 L191.3,219.4 L193.4,218.4 L195.5,217.2 L197.6,216 L199.8,214.7 L201.9,213.3 L204,211.9 L206.1,210.4 L208.2,208.9 L210.3,207.3 L212.4,205.6 L214.5,204 L216.6,202.3 L218.7,200.6 L220.9,198.9 L223,197.1 L225.1,195.4 L227.2,193.6 L229.3,191.9 L231.4,190.1 L233.5,188.3 L235.6,186.6 L237.7,184.8 L239.9,183.1 L242,181.4 L244.1,179.6 L246.2,178 L248.3,176.3 L250.4,174.7 L252.5,173.1 L254.6,171.5 L256.7,170 L258.8,168.5 L261,167 L263.1,165.6 L265.2,164.3 L267.3,162.9 L269.4,161.7 L271.5,160.5 L273.6,159.3 L275.7,158.2 L277.8,157.1 L280,156.2 L282.1,155.2 L284.2,154.4 L286.3,153.5 L288.4,152.8 L290.5,152.1 L292.6,151.5 L294.7,151 L296.8,150.5 L298.9,150.1 L301.1,149.8 L303.2,149.5 L305.3,149.3 L307.4,149.2 L309.5,149.1 L311.6,149.1 L313.7,149.3 L315.8,149.5 L317.9,149.9 L320.1,150.4 L322.2,151 L324.3,151.8 L326.4,152.6 L328.5,153.6 L330.6,154.6 L332.7,155.8 L334.8,157 L336.9,158.4 L339,159.9 L341.2,161.4 L343.3,163.1 L345.4,164.8 L347.5,166.6 L349.6,168.5 L351.7,170.4 L353.8,172.4 L355.9,174.5 L358,176.6 L360.2,178.8 L362.3,181 L364.4,183.2 L366.5,185.5 L368.6,187.7 L370.7,190 L372.8,192.3 L374.9,194.6 L377,196.9 L379.1,199.1 L381.3,201.3 L383.4,203.5 L385.5,205.6 L387.6,207.7 L389.7,209.7 L391.8,210.9 L393.9,209.9 L396,208.7 L398.1,207.5 L400.3,206.3 L402.4,205 L404.5,203.6 L406.6,202.2 L408.7,200.8 L410.8,199.4 L412.9,198 L415,196.6 L417.1,195.3 L419.2,194.1 L421.4,193 L423.5,192.2 L425.6,191.8 L427.7,192 L429.8,192.7 L431.9,193.7 L434,195.1 L436.1,196.8 L438.2,198.6 L440.4,200.7 L442.5,202.8 L444.6,204.9 L446.7,207 L448.8,209 L450.9,210.9 L453,212.6 L455.1,214.2 L457.2,217.5 L459.3,221.5 L459.3,221.5 Z" fill="#ffff00"/>
<polyline points="185,221.5 187.1,221.1 189.2,220.3 191.3,219.4 193.4,218.4 195.5,217.2 197.6,216 199.8,214.7 201.9,213.3 204,211.9 206.1,210.4 208.2,208.9 210.3,207.3 212.4,205.6 214.5,204 216.6,202.3 218.7,200.6 220.9,198.9 223,197.1 225.1,195.4 227.2,193.6 229.3,191.9 231.4,190.1 233.5,188.3 235.6,186.6 237.7,184.8 239.9,183.1 242,181.4 244.1,179.6 246.2,178 248.3,176.3 250.4,174.7 252.5,173.1 254.6,171.5 256.7,170 258.8,168.5 261,167 263.1,165.6 265.2,164.3 267.3,162.9 269.4,161.7 271.5,160.5 273.6,159.3 275.7,158.2 277.8,157.1 280,156.2 282.1,155.2 284.2,154.4 286.3,153.5 288.4,152.8 290.5,152.1 292.6,151.5 294.7,151 296.8,150.5 298.9,150.1 301.1,149.8 303.2,149.5 305.3,149.3 307.4,149.2 309.5,149.1 311.6,149.1 313.7,149.3 315.8,149.5 317.9,149.9 320.1,150.4 322.2,151 324.3,151.8 326.4,152.6 328.5,153.6 330.6,154.6 332.7,155.8 334.8,157 336.9,158.4 339,159.9 341.2,161.4 343.3,163.1 345.4,164.8 347.5,166.6 349.6,168.5 351.7,170.4 353.8,172.4 355.9,174.5 358,176.6 360.2,178.8 362.3,181 364.4,183.2 366.5,185.5 368.6,187.7 370.7,190 372.8,192.3 374.9,194.6 377,196.9 379.1,199.1 381.3,201.3 383.4,203.5 385.5,205.6 387.6,207.7 389.7,209.7 391.8,210.9 393.9,209.9 396,208.7 398.1,207.5 400.3,206.3 402.4,205 404.5,203.6 406.6,202.2 408.7,200.8 410.8,199.4 412.9,198 415,196.6 417.1,195.3 419.2,194.1 421.4,193 423.5,192.2 425.6,191.8 427.7,192 429.8,192.7 431.9,193.7 434,195.1 436.1,196.8 438.2,198.6 440.4,200.7 442.5,202.8 444.6,204.9 446.7,207 448.8,209 450.9,210.9 453,212.6 455.1,214.2 457.2,217.5 459.3,221.5" fill="none" stroke="#000" stroke-width="1" stroke-linejoin="round"/>
<path d="M181.3,224.5 L181.3,224.5 L183.4,223.9 L185.5,223 L187.6,221.8 L189.7,220.5 L191.8,219.1 L194,217.5 L196.1,215.8 L198.2,214.1 L200.3,212.2 L202.4,210.3 L204.5,208.3 L206.6,206.3 L208.7,204.2 L210.8,202.1 L213,200 L215.1,197.8 L217.2,195.6 L219.3,193.4 L221.4,191.1 L223.5,188.9 L225.6,186.6 L227.7,184.4 L229.8,182.1 L231.9,179.9 L234.1,177.6 L236.2,175.4 L238.3,173.2 L240.4,171 L242.5,168.9 L244.6,166.8 L246.7,164.7 L248.8,162.7 L250.9,160.7 L253.1,158.7 L255.2,156.8 L257.3,154.9 L259.4,153.1 L261.5,151.4 L263.6,149.7 L265.7,148.1 L267.8,146.5 L269.9,145.1 L272,143.6 L274.2,142.3 L276.3,141 L278.4,139.9 L280.5,138.7 L282.6,137.7 L284.7,136.8 L286.8,135.9 L288.9,135.1 L291,134.4 L293.2,133.8 L295.3,133.3 L297.4,132.9 L299.5,132.5 L301.6,132.3 L303.7,132.1 L305.8,132.1 L307.9,132.1 L310,132.3 L312.1,132.6 L314.3,133 L316.4,133.6 L318.5,134.3 L320.6,135.2 L322.7,136.2 L324.8,137.3 L326.9,138.6 L329,139.9 L331.1,141.4 L333.3,143 L335.4,144.7 L337.5,146.5 L339.6,148.5 L341.7,150.5 L343.8,152.6 L345.9,154.8 L348,157.1 L350.1,159.4 L352.2,161.9 L354.4,164.3 L356.5,166.8 L358.6,169.4 L360.7,172 L362.8,174.6 L364.9,177.2 L367,179.9 L369.1,182.5 L371.2,185.1 L373.4,187.7 L375.5,190.2 L377.6,192.7 L379.7,195.1 L381.8,197.5 L383.9,199.8 L386,202 L388.1,204.1 L390.2,206.1 L392.3,205.4 L394.5,203.6 L396.6,201.7 L398.7,199.7 L400.8,197.7 L402.9,195.6 L405,193.5 L407.1,191.3 L409.2,189.2 L411.3,187.1 L413.5,185.2 L415.6,183.4 L417.7,181.8 L419.8,180.5 L421.9,179.9 L424,180.3 L426.1,181.3 L428.2,182.9 L430.3,184.9 L432.4,187.4 L434.6,190.2 L436.7,193.3 L438.8,196.4 L440.9,199.6 L443,202.8 L445.1,205.8 L447.2,208.6 L449.3,211.2 L451.4,213.5 L453.6,218.5 L455.7,224.5 L455.7,224.5 Z" fill="#ffff00"/>
<polyline points="181.3,224.5 183.4,223.9 185.5,223 187.6,221.8 189.7,220.5 191.8,219.1 194,217.5 196.1,215.8 198.2,214.1 200.3,212.2 202.4,210.3 204.5,208.3 206.6,206.3 208.7,204.2 210.8,202.1 213,200 215.1,197.8 217.2,195.6 219.3,193.4 221.4,191.1 223.5,188.9 225.6,186.6 227.7,184.4 229.8,182.1 231.9,179.9 234.1,177.6 236.2,175.4 238.3,173.2 240.4,171 242.5,168.9 244.6,166.8 246.7,164.7 248.8,162.7 250.9,160.7 253.1,158.7 255.2,156.8 257.3,154.9 259.4,153.1 261.5,151.4 263.6,149.7 265.7,148.1 267.8,146.5 269.9,145.1 272,143.6 274.2,142.3 276.3,141 278.4,139.9 280.5,138.7 282.6,137.7 284.7,136.8 286.8,135.9 288.9,135.1 291,134.4 293.2,133.8 295.3,133.3 297.4,132.9 299.5,132.5 301.6,132.3 303.7,132.1 305.8,132.1 307.9,132.1 310,132.3 312.1,132.6 314.3,133 316.4,133.6 318.5,134.3 320.6,135.2 322.7,136.2 324.8,137.3 326.9,138.6 329,139.9 331.1,141.4 333.3,143 335.4,144.7 337.5,146.5 339.6,148.5 341.7,150.5 343.8,152.6 345.9,154.8 348,157.1 350.1,159.4 352.2,161.9 354.4,164.3 356.5,166.8 358.6,169.4 360.7,172 362.8,174.6 364.9,177.2 367,179.9 369.1,182.5 371.2,185.1 373.4,187.7 375.5,190.2 377.6,192.7 379.7,195.1 381.8,197.5 383.9,199.8 386,202 388.1,204.1 390.2,206.1 392.3,205.4 394.5,203.6 396.6,201.7 398.7,199.7 400.8,197.7 402.9,195.6 405,193.5 407.1,191.3 409.2,189.2 411.3,187.1 413.5,185.2 415.6,183.4 417.7,181.8 419.8,180.5 421.9,179.9 424,180.3 426.1,181.3 428.2,182.9 430.3,184.9 432.4,187.4 434.6,190.2 436.7,193.3 438.8,196.4 440.9,199.6 443,202.8 445.1,205.8 447.2,208.6 449.3,211.2 451.4,213.5 453.6,218.5 455.7,224.5" fill="none" stroke="#000" stroke-width="1" stroke-linejoin="round"/>
<path d="M177.6,228.5 L177.6,228.5 L179.7,227.8 L181.8,226.6 L183.9,225.2 L186.1,223.6 L188.2,221.8 L190.3,219.9 L192.4,217.9 L194.5,215.7 L196.6,213.5 L198.7,211.1 L200.8,208.7 L202.9,206.2 L205,203.7 L207.2,201.1 L209.3,198.5 L211.4,195.8 L213.5,193.1 L215.6,190.4 L217.7,187.6 L219.8,184.9 L221.9,182.1 L224,179.4 L226.2,176.6 L228.3,173.8 L230.4,171.1 L232.5,168.4 L234.6,165.7 L236.7,163 L238.8,160.4 L240.9,157.8 L243,155.3 L245.1,152.8 L247.3,150.3 L249.4,147.9 L251.5,145.6 L253.6,143.3 L255.7,141.1 L257.8,139 L259.9,136.9 L262,135 L264.1,133.1 L266.3,131.3 L268.4,129.5 L270.5,127.9 L272.6,126.3 L274.7,124.9 L276.8,123.5 L278.9,122.3 L281,121.1 L283.1,120.1 L285.2,119.1 L287.4,118.3 L289.5,117.5 L291.6,116.9 L293.7,116.4 L295.8,116 L297.9,115.7 L300,115.5 L302.1,115.4 L304.2,115.4 L306.4,115.6 L308.5,116 L310.6,116.5 L312.7,117.2 L314.8,118 L316.9,118.9 L319,120.1 L321.1,121.3 L323.2,122.7 L325.3,124.3 L327.5,126 L329.6,127.8 L331.7,129.7 L333.8,131.8 L335.9,134 L338,136.3 L340.1,138.7 L342.2,141.2 L344.3,143.7 L346.5,146.4 L348.6,149.1 L350.7,151.9 L352.8,154.8 L354.9,157.6 L357,160.6 L359.1,163.5 L361.2,166.5 L363.3,169.4 L365.4,172.3 L367.6,175.2 L369.7,178.1 L371.8,180.9 L373.9,183.7 L376,186.4 L378.1,189 L380.2,191.5 L382.3,193.9 L384.4,196.1 L386.6,198.3 L388.7,200.4 L390.8,201.2 L392.9,198.7 L395,196.2 L397.1,193.5 L399.2,190.8 L401.3,188 L403.4,185.2 L405.5,182.5 L407.7,179.8 L409.8,177.2 L411.9,174.8 L414,172.8 L416.1,171.1 L418.2,170.4 L420.3,170.9 L422.4,172.2 L424.5,174.2 L426.7,176.9 L428.8,180.1 L430.9,183.8 L433,187.8 L435.1,191.9 L437.2,196.1 L439.3,200.2 L441.4,204.1 L443.5,207.7 L445.6,211.1 L447.8,214.1 L449.9,220.7 L452,228.5 L452,228.5 Z" fill="#ffff00"/>
<polyline points="177.6,228.5 179.7,227.8 181.8,226.6 183.9,225.2 186.1,223.6 188.2,221.8 190.3,219.9 192.4,217.9 194.5,215.7 196.6,213.5 198.7,211.1 200.8,208.7 202.9,206.2 205,203.7 207.2,201.1 209.3,198.5 211.4,195.8 213.5,193.1 215.6,190.4 217.7,187.6 219.8,184.9 221.9,182.1 224,179.4 226.2,176.6 228.3,173.8 230.4,171.1 232.5,168.4 234.6,165.7 236.7,163 238.8,160.4 240.9,157.8 243,155.3 245.1,152.8 247.3,150.3 249.4,147.9 251.5,145.6 253.6,143.3 255.7,141.1 257.8,139 259.9,136.9 262,135 264.1,133.1 266.3,131.3 268.4,129.5 270.5,127.9 272.6,126.3 274.7,124.9 276.8,123.5 278.9,122.3 281,121.1 283.1,120.1 285.2,119.1 287.4,118.3 289.5,117.5 291.6,116.9 293.7,116.4 295.8,116 297.9,115.7 300,115.5 302.1,115.4 304.2,115.4 306.4,115.6 308.5,116 310.6,116.5 312.7,117.2 314.8,118 316.9,118.9 319,120.1 321.1,121.3 323.2,122.7 325.3,124.3 327.5,126 329.6,127.8 331.7,129.7 333.8,131.8 335.9,134 338,136.3 340.1,138.7 342.2,141.2 344.3,143.7 346.5,146.4 348.6,149.1 350.7,151.9 352.8,154.8 354.9,157.6 357,160.6 359.1,163.5 361.2,166.5 363.3,169.4 365.4,172.3 367.6,175.2 369.7,178.1 371.8,180.9 373.9,183.7 376,186.4 378.1,189 380.2,191.5 382.3,193.9 384.4,196.1 386.6,198.3 388.7,200.4 390.8,201.2 392.9,198.7 395,196.2 397.1,193.5 399.2,190.8 401.3,188 403.4,185.2 405.5,182.5 407.7,179.8 409.8,177.2 411.9,174.8 414,172.8 416.1,171.1 418.2,170.4 420.3,170.9 422.4,172.2 424.5,174.2 426.7,176.9 428.8,180.1 430.9,183.8 433,187.8 435.1,191.9 437.2,196.1 439.3,200.2 441.4,204.1 443.5,207.7 445.6,211.1 447.8,214.1 449.9,220.7 452,228.5" fill="none" stroke="#000" stroke-width="1" stroke-linejoin="round"/>
<path d="M173.9,231.5 L173.9,231.5 L176,230.7 L178.1,229.3 L180.3,227.7 L182.4,225.8 L184.5,223.8 L186.6,221.5 L188.7,219.2 L190.8,216.7 L192.9,214 L195,211.3 L197.1,208.5 L199.3,205.7 L201.4,202.7 L203.5,199.7 L205.6,196.7 L207.7,193.6 L209.8,190.4 L211.9,187.3 L214,184.1 L216.1,180.9 L218.2,177.7 L220.4,174.5 L222.5,171.3 L224.6,168.1 L226.7,164.9 L228.8,161.7 L230.9,158.6 L233,155.5 L235.1,152.5 L237.2,149.5 L239.4,146.5 L241.5,143.6 L243.6,140.8 L245.7,138 L247.8,135.3 L249.9,132.7 L252,130.1 L254.1,127.6 L256.2,125.3 L258.3,123 L260.5,120.8 L262.6,118.7 L264.7,116.7 L266.8,114.8 L268.9,113 L271,111.3 L273.1,109.7 L275.2,108.2 L277.3,106.9 L279.5,105.7 L281.6,104.6 L283.7,103.6 L285.8,102.8 L287.9,102 L290,101.4 L292.1,101 L294.2,100.6 L296.3,100.4 L298.4,100.3 L300.6,100.3 L302.7,100.6 L304.8,100.9 L306.9,101.5 L309,102.2 L311.1,103.1 L313.2,104.2 L315.3,105.4 L317.4,106.7 L319.6,108.3 L321.7,109.9 L323.8,111.8 L325.9,113.7 L328,115.8 L330.1,118.1 L332.2,120.4 L334.3,122.9 L336.4,125.5 L338.5,128.2 L340.7,131.1 L342.8,134 L344.9,137 L347,140 L349.1,143.2 L351.2,146.3 L353.3,149.6 L355.4,152.9 L357.5,156.2 L359.6,159.5 L361.8,162.8 L363.9,166.1 L366,169.4 L368.1,172.6 L370.2,175.8 L372.3,179 L374.4,182 L376.5,185 L378.6,188 L380.8,190.8 L382.9,193.5 L385,196.1 L387.1,198.7 L389.2,201.1 L391.3,200.5 L393.4,198 L395.5,195.4 L397.6,192.7 L399.7,190 L401.9,187.4 L404,184.8 L406.1,182.3 L408.2,180 L410.3,178 L412.4,176.3 L414.5,175.3 L416.6,175.6 L418.7,176.8 L420.9,178.8 L423,181.4 L425.1,184.6 L427.2,188.2 L429.3,192.2 L431.4,196.2 L433.5,200.1 L435.6,203.9 L437.7,207.4 L439.8,210.8 L442,214 L444.1,217.1 L446.2,223.8 L448.3,231.5 L448.3,231.5 Z" fill="#ffff00"/>
<polyline points="173.9,231.5 176,230.7 178.1,229.3 180.3,227.7 182.4,225.8 184.5,223.8 186.6,221.5 188.7,219.2 190.8,216.7 192.9,214 195,211.3 197.1,208.5 199.3,205.7 201.4,202.7 203.5,199.7 205.6,196.7 207.7,193.6 209.8,190.4 211.9,187.3 214,184.1 216.1,180.9 218.2,177.7 220.4,174.5 222.5,171.3 224.6,168.1 226.7,164.9 228.8,161.7 230.9,158.6 233,155.5 235.1,152.5 237.2,149.5 239.4,146.5 241.5,143.6 243.6,140.8 245.7,138 247.8,135.3 249.9,132.7 252,130.1 254.1,127.6 256.2,125.3 258.3,123 260.5,120.8 262.6,118.7 264.7,116.7 266.8,114.8 268.9,113 271,111.3 273.1,109.7 275.2,108.2 277.3,106.9 279.5,105.7 281.6,104.6 283.7,103.6 285.8,102.8 287.9,102 290,101.4 292.1,101 294.2,100.6 296.3,100.4 298.4,100.3 300.6,100.3 302.7,100.6 304.8,100.9 306.9,101.5 309,102.2 311.1,103.1 313.2,104.2 315.3,105.4 317.4,106.7 319.6,108.3 321.7,109.9 323.8,111.8 325.9,113.7 328,115.8 330.1,118.1 332.2,120.4 334.3,122.9 336.4,125.5 338.5,128.2 340.7,131.1 342.8,134 344.9,137 347,140 349.1,143.2 351.2,146.3 353.3,149.6 355.4,152.9 357.5,156.2 359.6,159.5 361.8,162.8 363.9,166.1 366,169.4 368.1,172.6 370.2,175.8 372.3,179 374.4,182 376.5,185 378.6,188 380.8,190.8 382.9,193.5 385,196.1 387.1,198.7 389.2,201.1 391.3,200.5 393.4,198 395.5,195.4 397.6,192.7 399.7,190 401.9,187.4 404,184.8 406.1,182.3 408.2,180 410.3,178 412.4,176.3 414.5,175.3 416.6,175.6 418.7,176.8 420.9,178.8 423,181.4 425.1,184.6 427.2,188.2 429.3,192.2 431.4,196.2 433.5,200.1 435.6,203.9 437.7,207.4 439.8,210.8 442,214 444.1,217.1 446.2,223.8 448.3,231.5" fill="none" stroke="#000" stroke-width="1" stroke-linejoin="round"/>
<path d="M170.2,234.5 L170.2,234.5 L172.4,233.6 L174.5,232 L176.6,230.2 L178.7,228 L180.8,225.7 L182.9,223.2 L185,220.4 L187.1,217.6 L189.2,214.6 L191.3,211.5 L193.5,208.4 L195.6,205.1 L197.7,201.7 L199.8,198.3 L201.9,194.8 L204,191.3 L206.1,187.7 L208.2,184.1 L210.3,180.5 L212.5,176.9 L214.6,173.2 L216.7,169.6 L218.8,165.9 L220.9,162.3 L223,158.7 L225.1,155.1 L227.2,151.5 L229.3,148 L231.4,144.5 L233.6,141.1 L235.7,137.8 L237.8,134.5 L239.9,131.2 L242,128.1 L244.1,125 L246.2,122 L248.3,119.1 L250.4,116.3 L252.6,113.6 L254.7,110.9 L256.8,108.4 L258.9,106 L261,103.8 L263.1,101.6 L265.2,99.6 L267.3,97.7 L269.4,95.9 L271.5,94.2 L273.7,92.7 L275.8,91.3 L277.9,90.1 L280,89 L282.1,88 L284.2,87.2 L286.3,86.5 L288.4,85.9 L290.5,85.5 L292.6,85.3 L294.8,85.2 L296.9,85.2 L299,85.5 L301.1,85.9 L303.2,86.5 L305.3,87.2 L307.4,88.1 L309.5,89.2 L311.6,90.5 L313.8,91.9 L315.9,93.5 L318,95.3 L320.1,97.1 L322.2,99.2 L324.3,101.4 L326.4,103.7 L328.5,106.2 L330.6,108.8 L332.7,111.5 L334.9,114.4 L337,117.3 L339.1,120.4 L341.2,123.5 L343.3,126.8 L345.4,130.1 L347.5,133.5 L349.6,136.9 L351.7,140.4 L353.9,143.9 L356,147.5 L358.1,151.1 L360.2,154.6 L362.3,158.2 L364.4,161.8 L366.5,165.3 L368.6,168.8 L370.7,172.2 L372.8,175.6 L375,178.9 L377.1,182.2 L379.2,185.3 L381.3,188.4 L383.4,191.4 L385.5,194.3 L387.6,197.1 L389.7,199.9 L391.8,199.9 L394,197.4 L396.1,194.8 L398.2,192.3 L400.3,189.8 L402.4,187.4 L404.5,185.2 L406.6,183.2 L408.7,181.5 L410.8,180.4 L412.9,180.4 L415.1,181.5 L417.2,183.3 L419.3,185.9 L421.4,189.1 L423.5,192.7 L425.6,196.6 L427.7,200.5 L429.8,204.3 L431.9,207.8 L434.1,211 L436.2,214 L438.3,217.1 L440.4,220.1 L442.5,226.8 L444.6,234.5 L444.6,234.5 Z" fill="#ffff00"/>
<polyline points="170.2,234.5 172.4,233.6 174.5,232 176.6,230.2 178.7,228 180.8,225.7 182.9,223.2 185,220.4 187.1,217.6 189.2,214.6 191.3,211.5 193.5,208.4 195.6,205.1 197.7,201.7 199.8,198.3 201.9,194.8 204,191.3 206.1,187.7 208.2,184.1 210.3,180.5 212.5,176.9 214.6,173.2 216.7,169.6 218.8,165.9 220.9,162.3 223,158.7 225.1,155.1 227.2,151.5 229.3,148 231.4,144.5 233.6,141.1 235.7,137.8 237.8,134.5 239.9,131.2 242,128.1 244.1,125 246.2,122 248.3,119.1 250.4,116.3 252.6,113.6 254.7,110.9 256.8,108.4 258.9,106 261,103.8 263.1,101.6 265.2,99.6 267.3,97.7 269.4,95.9 271.5,94.2 273.7,92.7 275.8,91.3 277.9,90.1 280,89 282.1,88 284.2,87.2 286.3,86.5 288.4,85.9 290.5,85.5 292.6,85.3 294.8,85.2 296.9,85.2 299,85.5 301.1,85.9 303.2,86.5 305.3,87.2 307.4,88.1 309.5,89.2 311.6,90.5 313.8,91.9 315.9,93.5 318,95.3 320.1,97.1 322.2,99.2 324.3,101.4 326.4,103.7 328.5,106.2 330.6,108.8 332.7,111.5 334.9,114.4 337,117.3 339.1,120.4 341.2,123.5 343.3,126.8 345.4,130.1 347.5,133.5 349.6,136.9 351.7,140.4 353.9,143.9 356,147.5 358.1,151.1 360.2,154.6 362.3,158.2 364.4,161.8 366.5,165.3 368.6,168.8 370.7,172.2 372.8,175.6 375,178.9 377.1,182.2 379.2,185.3 381.3,188.4 383.4,191.4 385.5,194.3 387.6,197.1 389.7,199.9 391.8,199.9 394,197.4 396.1,194.8 398.2,192.3 400.3,189.8 402.4,187.4 404.5,185.2 406.6,183.2 408.7,181.5 410.8,180.4 412.9,180.4 415.1,181.5 417.2,183.3 419.3,185.9 421.4,189.1 423.5,192.7 425.6,196.6 427.7,200.5 429.8,204.3 431.9,207.8 434.1,211 436.2,214 438.3,217.1 440.4,220.1 442.5,226.8 444.6,234.5" fill="none" stroke="#000" stroke-width="1" stroke-linejoin="round"/>
<path d="M166.6,238.5 L166.6,238.5 L168.7,237.5 L170.8,235.8 L172.9,233.7 L175,231.4 L177.1,228.8 L179.2,226 L181.3,223 L183.4,219.9 L185.6,216.6 L187.7,213.2 L189.8,209.7 L191.9,206.1 L194,202.4 L196.1,198.6 L198.2,194.8 L200.3,190.9 L202.4,187 L204.5,183.1 L206.7,179.1 L208.8,175.1 L210.9,171.1 L213,167.1 L215.1,163.2 L217.2,159.2 L219.3,155.3 L221.4,151.4 L223.5,147.5 L225.6,143.7 L227.8,140 L229.9,136.3 L232,132.6 L234.1,129.1 L236.2,125.6 L238.3,122.3 L240.4,119 L242.5,115.8 L244.6,112.7 L246.8,109.7 L248.9,106.9 L251,104.2 L253.1,101.6 L255.2,99.1 L257.3,96.7 L259.4,94.5 L261.5,92.4 L263.6,90.5 L265.7,88.7 L267.9,87.1 L270,85.6 L272.1,84.3 L274.2,83.2 L276.3,82.2 L278.4,81.3 L280.5,80.6 L282.6,80.1 L284.7,79.7 L286.9,79.6 L289,79.5 L291.1,79.7 L293.2,80 L295.3,80.4 L297.4,81 L299.5,81.8 L301.6,82.8 L303.7,83.9 L305.8,85.1 L308,86.6 L310.1,88.1 L312.2,89.8 L314.3,91.7 L316.4,93.7 L318.5,95.8 L320.6,98.1 L322.7,100.5 L324.8,103.1 L327,105.7 L329.1,108.5 L331.2,111.4 L333.3,114.4 L335.4,117.4 L337.5,120.6 L339.6,123.9 L341.7,127.2 L343.8,130.6 L345.9,134.1 L348.1,137.6 L350.2,141.1 L352.3,144.7 L354.4,148.3 L356.5,151.9 L358.6,155.5 L360.7,159.2 L362.8,162.8 L364.9,166.3 L367.1,169.9 L369.2,173.4 L371.3,176.9 L373.4,180.3 L375.5,183.6 L377.6,187 L379.7,190.2 L381.8,193.5 L383.9,196.7 L386,199.9 L388.2,203.2 L390.3,203 L392.4,200.6 L394.5,198.2 L396.6,195.8 L398.7,193.5 L400.8,191.3 L402.9,189.4 L405,187.7 L407.2,186.5 L409.3,186.3 L411.4,187.1 L413.5,188.9 L415.6,191.4 L417.7,194.6 L419.8,198.2 L421.9,202.1 L424,206 L426.1,209.6 L428.3,212.9 L430.4,215.8 L432.5,218.5 L434.6,221.2 L436.7,224 L438.8,230.8 L440.9,238.5 L440.9,238.5 Z" fill="#ffff00"/>
<polyline points="166.6,238.5 168.7,237.5 170.8,235.8 172.9,233.7 175,231.4 177.1,228.8 179.2,226 181.3,223 183.4,219.9 185.6,216.6 187.7,213.2 189.8,209.7 191.9,206.1 194,202.4 196.1,198.6 198.2,194.8 200.3,190.9 202.4,187 204.5,183.1 206.7,179.1 208.8,175.1 210.9,171.1 213,167.1 215.1,163.2 217.2,159.2 219.3,155.3 221.4,151.4 223.5,147.5 225.6,143.7 227.8,140 229.9,136.3 232,132.6 234.1,129.1 236.2,125.6 238.3,122.3 240.4,119 242.5,115.8 244.6,112.7 246.8,109.7 248.9,106.9 251,104.2 253.1,101.6 255.2,99.1 257.3,96.7 259.4,94.5 261.5,92.4 263.6,90.5 265.7,88.7 267.9,87.1 270,85.6 272.1,84.3 274.2,83.2 276.3,82.2 278.4,81.3 280.5,80.6 282.6,80.1 284.7,79.7 286.9,79.6 289,79.5 291.1,79.7 293.2,80 295.3,80.4 297.4,81 299.5,81.8 301.6,82.8 303.7,83.9 305.8,85.1 308,86.6 310.1,88.1 312.2,89.8 314.3,91.7 316.4,93.7 318.5,95.8 320.6,98.1 322.7,100.5 324.8,103.1 327,105.7 329.1,108.5 331.2,111.4 333.3,114.4 335.4,117.4 337.5,120.6 339.6,123.9 341.7,127.2 343.8,130.6 345.9,134.1 348.1,137.6 350.2,141.1 352.3,144.7 354.4,148.3 356.5,151.9 358.6,155.5 360.7,159.2 362.8,162.8 364.9,166.3 367.1,169.9 369.2,173.4 371.3,176.9 373.4,180.3 375.5,183.6 377.6,187 379.7,190.2 381.8,193.5 383.9,196.7 386,199.9 388.2,203.2 390.3,203 392.4,200.6 394.5,198.2 396.6,195.8 398.7,193.5 400.8,191.3 402.9,189.4 405,187.7 407.2,186.5 409.3,186.3 411.4,187.1 413.5,188.9 415.6,191.4 417.7,194.6 419.8,198.2 421.9,202.1 424,206 426.1,209.6 428.3,212.9 430.4,215.8 432.5,218.5 434.6,221.2 436.7,224 438.8,230.8 440.9,238.5" fill="none" stroke="#000" stroke-width="1" stroke-linejoin="round"/>
<path d="M162.9,241.5 L162.9,241.5 L165,240.4 L167.1,238.5 L169.2,236.3 L171.3,233.7 L173.4,230.9 L175.5,227.8 L177.6,224.5 L179.8,221.1 L181.9,217.5 L184,213.8 L186.1,210 L188.2,206.1 L190.3,202.1 L192.4,198 L194.5,193.9 L196.6,189.7 L198.7,185.5 L200.9,181.2 L203,177 L205.1,172.7 L207.2,168.4 L209.3,164.2 L211.4,159.9 L213.5,155.7 L215.6,151.6 L217.7,147.5 L219.9,143.4 L222,139.5 L224.1,135.6 L226.2,131.7 L228.3,128 L230.4,124.4 L232.5,120.8 L234.6,117.4 L236.7,114.1 L238.8,111 L241,107.9 L243.1,105 L245.2,102.3 L247.3,99.6 L249.4,97.2 L251.5,94.9 L253.6,92.7 L255.7,90.7 L257.8,88.9 L260,87.3 L262.1,85.8 L264.2,84.5 L266.3,83.4 L268.4,82.5 L270.5,81.8 L272.6,81.2 L274.7,80.8 L276.8,80.6 L278.9,80.6 L281.1,80.7 L283.2,81 L285.3,81.4 L287.4,81.9 L289.5,82.5 L291.6,83.3 L293.7,84.2 L295.8,85.2 L297.9,86.4 L300.1,87.6 L302.2,89 L304.3,90.5 L306.4,92.1 L308.5,93.9 L310.6,95.7 L312.7,97.7 L314.8,99.7 L316.9,101.9 L319,104.1 L321.2,106.5 L323.3,109 L325.4,111.5 L327.5,114.2 L329.6,116.9 L331.7,119.7 L333.8,122.5 L335.9,125.4 L338,128.4 L340.2,131.5 L342.3,134.6 L344.4,137.7 L346.5,140.8 L348.6,144 L350.7,147.2 L352.8,150.5 L354.9,153.7 L357,156.9 L359.1,160.2 L361.3,163.4 L363.4,166.6 L365.5,169.8 L367.6,173 L369.7,176.1 L371.8,179.3 L373.9,182.4 L376,185.6 L378.1,188.7 L380.3,192 L382.4,195.3 L384.5,198.7 L386.6,202.5 L388.7,205.3 L390.8,203 L392.9,200.7 L395,198.5 L397.1,196.4 L399.2,194.5 L401.4,192.9 L403.5,191.6 L405.6,191.1 L407.7,191.8 L409.8,193.5 L411.9,195.9 L414,199.1 L416.1,202.8 L418.2,206.7 L420.4,210.6 L422.5,214.2 L424.6,217.5 L426.7,220.2 L428.8,222.6 L430.9,225.1 L433,227.7 L435.1,234.1 L437.2,241.5 L437.2,241.5 Z" fill="#ffff00"/>
<polyline points="162.9,241.5 165,240.4 167.1,238.5 169.2,236.3 171.3,233.7 173.4,230.9 175.5,227.8 177.6,224.5 179.8,221.1 181.9,217.5 184,213.8 186.1,210 188.2,206.1 190.3,202.1 192.4,198 194.5,193.9 196.6,189.7 198.7,185.5 200.9,181.2 203,177 205.1,172.7 207.2,168.4 209.3,164.2 211.4,159.9 213.5,155.7 215.6,151.6 217.7,147.5 219.9,143.4 222,139.5 224.1,135.6 226.2,131.7 228.3,128 230.4,124.4 232.5,120.8 234.6,117.4 236.7,114.1 238.8,111 241,107.9 243.1,105 245.2,102.3 247.3,99.6 249.4,97.2 251.5,94.9 253.6,92.7 255.7,90.7 257.8,88.9 260,87.3 262.1,85.8 264.2,84.5 266.3,83.4 268.4,82.5 270.5,81.8 272.6,81.2 274.7,80.8 276.8,80.6 278.9,80.6 281.1,80.7 283.2,81 285.3,81.4 287.4,81.9 289.5,82.5 291.6,83.3 293.7,84.2 295.8,85.2 297.9,86.4 300.1,87.6 302.2,89 304.3,90.5 306.4,92.1 308.5,93.9 310.6,95.7 312.7,97.7 314.8,99.7 316.9,101.9 319,104.1 321.2,106.5 323.3,109 325.4,111.5 327.5,114.2 329.6,116.9 331.7,119.7 333.8,122.5 335.9,125.4 338,128.4 340.2,131.5 342.3,134.6 344.4,137.7 346.5,140.8 348.6,144 350.7,147.2 352.8,150.5 354.9,153.7 357,156.9 359.1,160.2 361.3,163.4 363.4,166.6 365.5,169.8 367.6,173 369.7,176.1 371.8,179.3 373.9,182.4 376,185.6 378.1,188.7 380.3,192 382.4,195.3 384.5,198.7 386.6,202.5 388.7,205.3 390.8,203 392.9,200.7 395,198.5 397.1,196.4 399.2,194.5 401.4,192.9 403.5,191.6 405.6,191.1 407.7,191.8 409.8,193.5 411.9,195.9 414,199.1 416.1,202.8 418.2,206.7 420.4,210.6 422.5,214.2 424.6,217.5 426.7,220.2 428.8,222.6 430.9,225.1 433,227.7 435.1,234.1 437.2,241.5" fill="none" stroke="#000" stroke-width="1" stroke-linejoin="round"/>
<path d="M159.2,244.5 L159.2,244.5 L161.3,243.4 L163.4,241.6 L165.5,239.3 L167.6,236.8 L169.7,233.9 L171.8,230.9 L174,227.7 L176.1,224.2 L178.2,220.7 L180.3,217 L182.4,213.2 L184.5,209.4 L186.6,205.4 L188.7,201.3 L190.8,197.3 L193,193.1 L195.1,188.9 L197.2,184.7 L199.3,180.5 L201.4,176.3 L203.5,172.1 L205.6,168 L207.7,163.8 L209.8,159.7 L211.9,155.6 L214.1,151.6 L216.2,147.7 L218.3,143.8 L220.4,140 L222.5,136.3 L224.6,132.7 L226.7,129.2 L228.8,125.8 L230.9,122.5 L233.1,119.3 L235.2,116.3 L237.3,113.4 L239.4,110.7 L241.5,108.1 L243.6,105.6 L245.7,103.3 L247.8,101.2 L249.9,99.3 L252,97.5 L254.2,95.9 L256.3,94.4 L258.4,93.1 L260.5,92.1 L262.6,91.2 L264.7,90.5 L266.8,89.9 L268.9,89.6 L271,89.4 L273.2,89.5 L275.3,89.6 L277.4,89.9 L279.5,90.3 L281.6,90.8 L283.7,91.5 L285.8,92.3 L287.9,93.2 L290,94.2 L292.1,95.4 L294.3,96.7 L296.4,98.1 L298.5,99.6 L300.6,101.2 L302.7,102.9 L304.8,104.8 L306.9,106.8 L309,108.8 L311.1,111 L313.3,113.3 L315.4,115.6 L317.5,118.1 L319.6,120.6 L321.7,123.2 L323.8,125.9 L325.9,128.7 L328,131.6 L330.1,134.5 L332.2,137.4 L334.4,140.4 L336.5,143.5 L338.6,146.5 L340.7,149.7 L342.8,152.8 L344.9,155.9 L347,159.1 L349.1,162.2 L351.2,165.4 L353.4,168.5 L355.5,171.6 L357.6,174.7 L359.7,177.8 L361.8,180.8 L363.9,183.7 L366,186.6 L368.1,189.5 L370.2,192.3 L372.3,195.1 L374.5,197.8 L376.6,200.5 L378.7,203.1 L380.8,205.8 L382.9,208.5 L385,210 L387.1,207.8 L389.2,205.6 L391.3,203.5 L393.5,201.5 L395.6,199.7 L397.7,198.1 L399.8,196.8 L401.9,196 L404,196.6 L406.1,198.1 L408.2,200.5 L410.3,203.6 L412.4,207.3 L414.6,211.2 L416.7,215.2 L418.8,218.9 L420.9,222.1 L423,224.7 L425.1,226.9 L427.2,229 L429.3,231.3 L431.4,237.4 L433.6,244.5 L433.6,244.5 Z" fill="#ffff00"/>
<polyline points="159.2,244.5 161.3,243.4 163.4,241.6 165.5,239.3 167.6,236.8 169.7,233.9 171.8,230.9 174,227.7 176.1,224.2 178.2,220.7 180.3,217 182.4,213.2 184.5,209.4 186.6,205.4 188.7,201.3 190.8,197.3 193,193.1 195.1,188.9 197.2,184.7 199.3,180.5 201.4,176.3 203.5,172.1 205.6,168 207.7,163.8 209.8,159.7 211.9,155.6 214.1,151.6 216.2,147.7 218.3,143.8 220.4,140 222.5,136.3 224.6,132.7 226.7,129.2 228.8,125.8 230.9,122.5 233.1,119.3 235.2,116.3 237.3,113.4 239.4,110.7 241.5,108.1 243.6,105.6 245.7,103.3 247.8,101.2 249.9,99.3 252,97.5 254.2,95.9 256.3,94.4 258.4,93.1 260.5,92.1 262.6,91.2 264.7,90.5 266.8,89.9 268.9,89.6 271,89.4 273.2,89.5 275.3,89.6 277.4,89.9 279.5,90.3 281.6,90.8 283.7,91.5 285.8,92.3 287.9,93.2 290,94.2 292.1,95.4 294.3,96.7 296.4,98.1 298.5,99.6 300.6,101.2 302.7,102.9 304.8,104.8 306.9,106.8 309,108.8 311.1,111 313.3,113.3 315.4,115.6 317.5,118.1 319.6,120.6 321.7,123.2 323.8,125.9 325.9,128.7 328,131.6 330.1,134.5 332.2,137.4 334.4,140.4 336.5,143.5 338.6,146.5 340.7,149.7 342.8,152.8 344.9,155.9 347,159.1 349.1,162.2 351.2,165.4 353.4,168.5 355.5,171.6 357.6,174.7 359.7,177.8 361.8,180.8 363.9,183.7 366,186.6 368.1,189.5 370.2,192.3 372.3,195.1 374.5,197.8 376.6,200.5 378.7,203.1 380.8,205.8 382.9,208.5 385,210 387.1,207.8 389.2,205.6 391.3,203.5 393.5,201.5 395.6,199.7 397.7,198.1 399.8,196.8 401.9,196 404,196.6 406.1,198.1 408.2,200.5 410.3,203.6 412.4,207.3 414.6,211.2 416.7,215.2 418.8,218.9 420.9,222.1 423,224.7 425.1,226.9 427.2,229 429.3,231.3 431.4,237.4 433.6,244.5" fill="none" stroke="#000" stroke-width="1" stroke-linejoin="round"/>
<path d="M155.5,248.5 L155.5,248.5 L157.6,247.4 L159.7,245.7 L161.8,243.6 L163.9,241.2 L166.1,238.5 L168.2,235.7 L170.3,232.6 L172.4,229.4 L174.5,226.1 L176.6,222.6 L178.7,219 L180.8,215.4 L182.9,211.6 L185,207.8 L187.2,204 L189.3,200.1 L191.4,196.1 L193.5,192.2 L195.6,188.2 L197.7,184.2 L199.8,180.3 L201.9,176.3 L204,172.4 L206.2,168.5 L208.3,164.7 L210.4,160.9 L212.5,157.2 L214.6,153.5 L216.7,149.9 L218.8,146.4 L220.9,143 L223,139.7 L225.1,136.5 L227.3,133.4 L229.4,130.4 L231.5,127.5 L233.6,124.8 L235.7,122.2 L237.8,119.7 L239.9,117.4 L242,115.2 L244.1,113.2 L246.3,111.3 L248.4,109.6 L250.5,108.1 L252.6,106.7 L254.7,105.5 L256.8,104.5 L258.9,103.6 L261,102.9 L263.1,102.4 L265.2,102 L267.4,101.8 L269.5,101.8 L271.6,102 L273.7,102.2 L275.8,102.6 L277.9,103.2 L280,103.8 L282.1,104.6 L284.2,105.5 L286.4,106.5 L288.5,107.7 L290.6,109 L292.7,110.4 L294.8,111.9 L296.9,113.5 L299,115.3 L301.1,117.1 L303.2,119.1 L305.3,121.2 L307.5,123.4 L309.6,125.7 L311.7,128 L313.8,130.5 L315.9,133.1 L318,135.7 L320.1,138.4 L322.2,141.2 L324.3,144.1 L326.5,147 L328.6,150 L330.7,153 L332.8,156.1 L334.9,159.2 L337,162.3 L339.1,165.5 L341.2,168.7 L343.3,171.9 L345.4,175 L347.6,178.2 L349.7,181.4 L351.8,184.5 L353.9,187.6 L356,190.7 L358.1,193.8 L360.2,196.8 L362.3,199.7 L364.4,202.6 L366.5,205.5 L368.7,208.3 L370.8,211.1 L372.9,213.8 L375,216.6 L377.1,219.4 L379.2,217.7 L381.3,215.7 L383.4,213.6 L385.5,211.5 L387.7,209.5 L389.8,207.6 L391.9,205.8 L394,204.2 L396.1,202.9 L398.2,202.1 L400.3,202.3 L402.4,203.6 L404.5,205.7 L406.6,208.7 L408.8,212.2 L410.9,216 L413,219.9 L415.1,223.5 L417.2,226.6 L419.3,229.1 L421.4,231.1 L423.5,233 L425.6,235.1 L427.8,241.1 L429.9,248.5 L429.9,248.5 Z" fill="#ffff00"/>
<polyline points="155.5,248.5 157.6,247.4 159.7,245.7 161.8,243.6 163.9,241.2 166.1,238.5 168.2,235.7 170.3,232.6 172.4,229.4 174.5,226.1 176.6,222.6 178.7,219 180.8,215.4 182.9,211.6 185,207.8 187.2,204 189.3,200.1 191.4,196.1 193.5,192.2 195.6,188.2 197.7,184.2 199.8,180.3 201.9,176.3 204,172.4 206.2,168.5 208.3,164.7 210.4,160.9 212.5,157.2 214.6,153.5 216.7,149.9 218.8,146.4 220.9,143 223,139.7 225.1,136.5 227.3,133.4 229.4,130.4 231.5,127.5 233.6,124.8 235.7,122.2 237.8,119.7 239.9,117.4 242,115.2 244.1,113.2 246.3,111.3 248.4,109.6 250.5,108.1 252.6,106.7 254.7,105.5 256.8,104.5 258.9,103.6 261,102.9 263.1,102.4 265.2,102 267.4,101.8 269.5,101.8 271.6,102 273.7,102.2 275.8,102.6 277.9,103.2 280,103.8 282.1,104.6 284.2,105.5 286.4,106.5 288.5,107.7 290.6,109 292.7,110.4 294.8,111.9 296.9,113.5 299,115.3 301.1,117.1 303.2,119.1 305.3,121.2 307.5,123.4 309.6,125.7 311.7,128 313.8,130.5 315.9,133.1 318,135.7 320.1,138.4 322.2,141.2 324.3,144.1 326.5,147 328.6,150 330.7,153 332.8,156.1 334.9,159.2 337,162.3 339.1,165.5 341.2,168.7 343.3,171.9 345.4,175 347.6,178.2 349.7,181.4 351.8,184.5 353.9,187.6 356,190.7 358.1,193.8 360.2,196.8 362.3,199.7 364.4,202.6 366.5,205.5 368.7,208.3 370.8,211.1 372.9,213.8 375,216.6 377.1,219.4 379.2,217.7 381.3,215.7 383.4,213.6 385.5,211.5 387.7,209.5 389.8,207.6 391.9,205.8 394,204.2 396.1,202.9 398.2,202.1 400.3,202.3 402.4,203.6 404.5,205.7 406.6,208.7 408.8,212.2 410.9,216 413,219.9 415.1,223.5 417.2,226.6 419.3,229.1 421.4,231.1 423.5,233 425.6,235.1 427.8,241.1 429.9,248.5" fill="none" stroke="#000" stroke-width="1" stroke-linejoin="round"/>
<path d="M151.8,251.5 L151.8,251.5 L153.9,250.5 L156,248.8 L158.1,246.7 L160.3,244.4 L162.4,241.8 L164.5,239 L166.6,236.1 L168.7,233 L170.8,229.7 L172.9,226.4 L175,222.9 L177.1,219.3 L179.3,215.7 L181.4,212 L183.5,208.3 L185.6,204.5 L187.7,200.7 L189.8,196.9 L191.9,193.1 L194,189.3 L196.1,185.5 L198.2,181.7 L200.4,177.9 L202.5,174.2 L204.6,170.6 L206.7,167 L208.8,163.4 L210.9,159.9 L213,156.5 L215.1,153.2 L217.2,150 L219.4,146.9 L221.5,143.9 L223.6,141 L225.7,138.3 L227.8,135.6 L229.9,133.1 L232,130.7 L234.1,128.5 L236.2,126.4 L238.3,124.4 L240.5,122.7 L242.6,121 L244.7,119.6 L246.8,118.3 L248.9,117.1 L251,116.1 L253.1,115.3 L255.2,114.7 L257.3,114.3 L259.5,114 L261.6,113.9 L263.7,113.9 L265.8,114.1 L267.9,114.4 L270,114.8 L272.1,115.4 L274.2,116 L276.3,116.8 L278.4,117.7 L280.6,118.7 L282.7,119.9 L284.8,121.2 L286.9,122.5 L289,124 L291.1,125.6 L293.2,127.4 L295.3,129.2 L297.4,131.1 L299.5,133.1 L301.7,135.3 L303.8,137.5 L305.9,139.8 L308,142.2 L310.1,144.7 L312.2,147.2 L314.3,149.9 L316.4,152.6 L318.5,155.4 L320.7,158.2 L322.8,161.1 L324.9,164 L327,167 L329.1,170 L331.2,173.1 L333.3,176.1 L335.4,179.2 L337.5,182.3 L339.6,185.4 L341.8,188.5 L343.9,191.6 L346,194.7 L348.1,197.7 L350.2,200.7 L352.3,203.7 L354.4,206.6 L356.5,209.5 L358.6,212.4 L360.8,215.2 L362.9,217.9 L365,220.6 L367.1,223.3 L369.2,225.9 L371.3,226.1 L373.4,224.2 L375.5,222.3 L377.6,220.3 L379.7,218.3 L381.9,216.4 L384,214.4 L386.1,212.6 L388.2,210.9 L390.3,209.3 L392.4,208 L394.5,207.1 L396.6,207.1 L398.7,208.1 L400.9,210.1 L403,212.8 L405.1,216.1 L407.2,219.8 L409.3,223.6 L411.4,227.1 L413.5,230.1 L415.6,232.5 L417.7,234.4 L419.8,236.1 L422,237.9 L424.1,243.9 L426.2,251.5 L426.2,251.5 Z" fill="#ffff00"/>
<polyline points="151.8,251.5 153.9,250.5 156,248.8 158.1,246.7 160.3,244.4 162.4,241.8 164.5,239 166.6,236.1 168.7,233 170.8,229.7 172.9,226.4 175,222.9 177.1,219.3 179.3,215.7 181.4,212 183.5,208.3 185.6,204.5 187.7,200.7 189.8,196.9 191.9,193.1 194,189.3 196.1,185.5 198.2,181.7 200.4,177.9 202.5,174.2 204.6,170.6 206.7,167 208.8,163.4 210.9,159.9 213,156.5 215.1,153.2 217.2,150 219.4,146.9 221.5,143.9 223.6,141 225.7,138.3 227.8,135.6 229.9,133.1 232,130.7 234.1,128.5 236.2,126.4 238.3,124.4 240.5,122.7 242.6,121 244.7,119.6 246.8,118.3 248.9,117.1 251,116.1 253.1,115.3 255.2,114.7 257.3,114.3 259.5,114 261.6,113.9 263.7,113.9 265.8,114.1 267.9,114.4 270,114.8 272.1,115.4 274.2,116 276.3,116.8 278.4,117.7 280.6,118.7 282.7,119.9 284.8,121.2 286.9,122.5 289,124 291.1,125.6 293.2,127.4 295.3,129.2 297.4,131.1 299.5,133.1 301.7,135.3 303.8,137.5 305.9,139.8 308,142.2 310.1,144.7 312.2,147.2 314.3,149.9 316.4,152.6 318.5,155.4 320.7,158.2 322.8,161.1 324.9,164 327,167 329.1,170 331.2,173.1 333.3,176.1 335.4,179.2 337.5,182.3 339.6,185.4 341.8,188.5 343.9,191.6 346,194.7 348.1,197.7 350.2,200.7 352.3,203.7 354.4,206.6 356.5,209.5 358.6,212.4 360.8,215.2 362.9,217.9 365,220.6 367.1,223.3 369.2,225.9 371.3,226.1 373.4,224.2 375.5,222.3 377.6,220.3 379.7,218.3 381.9,216.4 384,214.4 386.1,212.6 388.2,210.9 390.3,209.3 392.4,208 394.5,207.1 396.6,207.1 398.7,208.1 400.9,210.1 403,212.8 405.1,216.1 407.2,219.8 409.3,223.6 411.4,227.1 413.5,230.1 415.6,232.5 417.7,234.4 419.8,236.1 422,237.9 424.1,243.9 426.2,251.5" fill="none" stroke="#000" stroke-width="1" stroke-linejoin="round"/>
<path d="M148.1,254.5 L148.1,254.5 L150.2,253.4 L152.4,251.6 L154.5,249.5 L156.6,247.1 L158.7,244.5 L160.8,241.7 L162.9,238.8 L165,235.7 L167.1,232.5 L169.2,229.2 L171.3,225.8 L173.5,222.3 L175.6,218.8 L177.7,215.2 L179.8,211.6 L181.9,208 L184,204.3 L186.1,200.7 L188.2,197 L190.3,193.4 L192.5,189.7 L194.6,186.1 L196.7,182.6 L198.8,179 L200.9,175.6 L203,172.2 L205.1,168.8 L207.2,165.5 L209.3,162.3 L211.4,159.2 L213.6,156.2 L215.7,153.3 L217.8,150.5 L219.9,147.8 L222,145.3 L224.1,142.8 L226.2,140.5 L228.3,138.3 L230.4,136.2 L232.5,134.3 L234.7,132.6 L236.8,130.9 L238.9,129.5 L241,128.1 L243.1,127 L245.2,126 L247.3,125.1 L249.4,124.4 L251.5,123.9 L253.7,123.6 L255.8,123.4 L257.9,123.3 L260,123.4 L262.1,123.7 L264.2,124 L266.3,124.4 L268.4,125 L270.5,125.7 L272.6,126.5 L274.8,127.4 L276.9,128.5 L279,129.6 L281.1,130.9 L283.2,132.3 L285.3,133.7 L287.4,135.3 L289.5,137 L291.6,138.8 L293.8,140.7 L295.9,142.7 L298,144.7 L300.1,146.9 L302.2,149.2 L304.3,151.5 L306.4,153.9 L308.5,156.4 L310.6,159 L312.7,161.6 L314.9,164.3 L317,167 L319.1,169.8 L321.2,172.7 L323.3,175.5 L325.4,178.5 L327.5,181.4 L329.6,184.4 L331.7,187.3 L333.9,190.3 L336,193.3 L338.1,196.3 L340.2,199.2 L342.3,202.2 L344.4,205.1 L346.5,208 L348.6,210.9 L350.7,213.7 L352.8,216.4 L355,219.2 L357.1,221.8 L359.2,224.5 L361.3,227 L363.4,229.6 L365.5,232.1 L367.6,230.4 L369.7,228.6 L371.8,226.7 L374,224.9 L376.1,223 L378.2,221.2 L380.3,219.3 L382.4,217.6 L384.5,215.9 L386.6,214.4 L388.7,213.2 L390.8,212.2 L392.9,211.9 L395.1,212.7 L397.2,214.4 L399.3,217 L401.4,220.1 L403.5,223.6 L405.6,227.3 L407.7,230.7 L409.8,233.7 L411.9,236.1 L414.1,237.8 L416.2,239.3 L418.3,240.9 L420.4,246.7 L422.5,254.5 L422.5,254.5 Z" fill="#ffff00"/>
<polyline points="148.1,254.5 150.2,253.4 152.4,251.6 154.5,249.5 156.6,247.1 158.7,244.5 160.8,241.7 162.9,238.8 165,235.7 167.1,232.5 169.2,229.2 171.3,225.8 173.5,222.3 175.6,218.8 177.7,215.2 179.8,211.6 181.9,208 184,204.3 186.1,200.7 188.2,197 190.3,193.4 192.5,189.7 194.6,186.1 196.7,182.6 198.8,179 200.9,175.6 203,172.2 205.1,168.8 207.2,165.5 209.3,162.3 211.4,159.2 213.6,156.2 215.7,153.3 217.8,150.5 219.9,147.8 222,145.3 224.1,142.8 226.2,140.5 228.3,138.3 230.4,136.2 232.5,134.3 234.7,132.6 236.8,130.9 238.9,129.5 241,128.1 243.1,127 245.2,126 247.3,125.1 249.4,124.4 251.5,123.9 253.7,123.6 255.8,123.4 257.9,123.3 260,123.4 262.1,123.7 264.2,124 266.3,124.4 268.4,125 270.5,125.7 272.6,126.5 274.8,127.4 276.9,128.5 279,129.6 281.1,130.9 283.2,132.3 285.3,133.7 287.4,135.3 289.5,137 291.6,138.8 293.8,140.7 295.9,142.7 298,144.7 300.1,146.9 302.2,149.2 304.3,151.5 306.4,153.9 308.5,156.4 310.6,159 312.7,161.6 314.9,164.3 317,167 319.1,169.8 321.2,172.7 323.3,175.5 325.4,178.5 327.5,181.4 329.6,184.4 331.7,187.3 333.9,190.3 336,193.3 338.1,196.3 340.2,199.2 342.3,202.2 344.4,205.1 346.5,208 348.6,210.9 350.7,213.7 352.8,216.4 355,219.2 357.1,221.8 359.2,224.5 361.3,227 363.4,229.6 365.5,232.1 367.6,230.4 369.7,228.6 371.8,226.7 374,224.9 376.1,223 378.2,221.2 380.3,219.3 382.4,217.6 384.5,215.9 386.6,214.4 388.7,213.2 390.8,212.2 392.9,211.9 395.1,212.7 397.2,214.4 399.3,217 401.4,220.1 403.5,223.6 405.6,227.3 407.7,230.7 409.8,233.7 411.9,236.1 414.1,237.8 416.2,239.3 418.3,240.9 420.4,246.7 422.5,254.5" fill="none" stroke="#000" stroke-width="1" stroke-linejoin="round"/>
<path d="M144.4,258.5 L144.4,258.5 L146.6,257.2 L148.7,255.3 L150.8,253.1 L152.9,250.6 L155,247.8 L157.1,244.9 L159.2,241.9 L161.3,238.8 L163.4,235.5 L165.5,232.1 L167.7,228.7 L169.8,225.2 L171.9,221.7 L174,218.1 L176.1,214.5 L178.2,210.9 L180.3,207.3 L182.4,203.6 L184.5,200 L186.7,196.4 L188.8,192.8 L190.9,189.3 L193,185.8 L195.1,182.3 L197.2,179 L199.3,175.6 L201.4,172.4 L203.5,169.2 L205.6,166.1 L207.8,163.1 L209.9,160.2 L212,157.4 L214.1,154.7 L216.2,152.1 L218.3,149.6 L220.4,147.3 L222.5,145.1 L224.6,143 L226.8,141 L228.9,139.2 L231,137.6 L233.1,136 L235.2,134.7 L237.3,133.4 L239.4,132.4 L241.5,131.5 L243.6,130.7 L245.7,130.1 L247.9,129.7 L250,129.4 L252.1,129.3 L254.2,129.3 L256.3,129.5 L258.4,129.7 L260.5,130.1 L262.6,130.7 L264.7,131.3 L266.9,132.1 L269,133 L271.1,134 L273.2,135.1 L275.3,136.3 L277.4,137.7 L279.5,139.1 L281.6,140.7 L283.7,142.4 L285.8,144.1 L288,146 L290.1,148 L292.2,150.1 L294.3,152.2 L296.4,154.5 L298.5,156.8 L300.6,159.3 L302.7,161.8 L304.8,164.4 L307,167 L309.1,169.7 L311.2,172.5 L313.3,175.3 L315.4,178.1 L317.5,181.1 L319.6,184 L321.7,187 L323.8,189.9 L325.9,192.9 L328.1,195.9 L330.2,199 L332.3,202 L334.4,204.9 L336.5,207.9 L338.6,210.8 L340.7,213.7 L342.8,216.6 L344.9,219.4 L347.1,222.2 L349.2,224.9 L351.3,227.5 L353.4,230.1 L355.5,232.7 L357.6,235.2 L359.7,235.5 L361.8,233.7 L363.9,231.9 L366,229.9 L368.2,228 L370.3,226 L372.4,224 L374.5,222 L376.6,220.1 L378.7,218.3 L380.8,216.6 L382.9,215 L385,213.7 L387.2,212.8 L389.3,212.8 L391.4,213.9 L393.5,216.1 L395.6,219 L397.7,222.6 L399.8,226.5 L401.9,230.5 L404,234.1 L406.1,237.1 L408.3,239.3 L410.4,241 L412.5,242.4 L414.6,244.1 L416.7,250.4 L418.8,258.5 L418.8,258.5 Z" fill="#ffff00"/>
<polyline points="144.4,258.5 146.6,257.2 148.7,255.3 150.8,253.1 152.9,250.6 155,247.8 157.1,244.9 159.2,241.9 161.3,238.8 163.4,235.5 165.5,232.1 167.7,228.7 169.8,225.2 171.9,221.7 174,218.1 176.1,214.5 178.2,210.9 180.3,207.3 182.4,203.6 184.5,200 186.7,196.4 188.8,192.8 190.9,189.3 193,185.8 195.1,182.3 197.2,179 199.3,175.6 201.4,172.4 203.5,169.2 205.6,166.1 207.8,163.1 209.9,160.2 212,157.4 214.1,154.7 216.2,152.1 218.3,149.6 220.4,147.3 222.5,145.1 224.6,143 226.8,141 228.9,139.2 231,137.6 233.1,136 235.2,134.7 237.3,133.4 239.4,132.4 241.5,131.5 243.6,130.7 245.7,130.1 247.9,129.7 250,129.4 252.1,129.3 254.2,129.3 256.3,129.5 258.4,129.7 260.5,130.1 262.6,130.7 264.7,131.3 266.9,132.1 269,133 271.1,134 273.2,135.1 275.3,136.3 277.4,137.7 279.5,139.1 281.6,140.7 283.7,142.4 285.8,144.1 288,146 290.1,148 292.2,150.1 294.3,152.2 296.4,154.5 298.5,156.8 300.6,159.3 302.7,161.8 304.8,164.4 307,167 309.1,169.7 311.2,172.5 313.3,175.3 315.4,178.1 317.5,181.1 319.6,184 321.7,187 323.8,189.9 325.9,192.9 328.1,195.9 330.2,199 332.3,202 334.4,204.9 336.5,207.9 338.6,210.8 340.7,213.7 342.8,216.6 344.9,219.4 347.1,222.2 349.2,224.9 351.3,227.5 353.4,230.1 355.5,232.7 357.6,235.2 359.7,235.5 361.8,233.7 363.9,231.9 366,229.9 368.2,228 370.3,226 372.4,224 374.5,222 376.6,220.1 378.7,218.3 380.8,216.6 382.9,215 385,213.7 387.2,212.8 389.3,212.8 391.4,213.9 393.5,216.1 395.6,219 397.7,222.6 399.8,226.5 401.9,230.5 404,234.1 406.1,237.1 408.3,239.3 410.4,241 412.5,242.4 414.6,244.1 416.7,250.4 418.8,258.5" fill="none" stroke="#000" stroke-width="1" stroke-linejoin="round"/>
<path d="M140.8,261.5 L140.8,261.5 L142.9,260 L145,257.8 L147.1,255.2 L149.2,252.4 L151.3,249.4 L153.4,246.2 L155.5,242.9 L157.6,239.4 L159.8,235.9 L161.9,232.3 L164,228.6 L166.1,224.9 L168.2,221.1 L170.3,217.3 L172.4,213.5 L174.5,209.6 L176.6,205.8 L178.7,201.9 L180.9,198.1 L183,194.3 L185.1,190.6 L187.2,186.9 L189.3,183.2 L191.4,179.6 L193.5,176.1 L195.6,172.6 L197.7,169.3 L199.9,166 L202,162.8 L204.1,159.7 L206.2,156.7 L208.3,153.8 L210.4,151 L212.5,148.4 L214.6,145.9 L216.7,143.5 L218.8,141.3 L221,139.1 L223.1,137.2 L225.2,135.4 L227.3,133.7 L229.4,132.2 L231.5,130.8 L233.6,129.6 L235.7,128.6 L237.8,127.7 L240,127 L242.1,126.4 L244.2,126.1 L246.3,125.9 L248.4,125.8 L250.5,125.9 L252.6,126.1 L254.7,126.5 L256.8,127 L258.9,127.7 L261.1,128.4 L263.2,129.3 L265.3,130.4 L267.4,131.6 L269.5,132.9 L271.6,134.3 L273.7,135.8 L275.8,137.5 L277.9,139.3 L280.1,141.2 L282.2,143.2 L284.3,145.4 L286.4,147.6 L288.5,150 L290.6,152.4 L292.7,155 L294.8,157.6 L296.9,160.3 L299,163.2 L301.2,166 L303.3,169 L305.4,172 L307.5,175.1 L309.6,178.2 L311.7,181.4 L313.8,184.6 L315.9,187.9 L318,191.2 L320.2,194.5 L322.3,197.8 L324.4,201.1 L326.5,204.4 L328.6,207.7 L330.7,211 L332.8,214.2 L334.9,217.4 L337,220.6 L339.1,223.7 L341.3,226.8 L343.4,229.8 L345.5,232.7 L347.6,235.6 L349.7,238.4 L351.8,239.9 L353.9,238.1 L356,236.2 L358.1,234.3 L360.3,232.2 L362.4,230.2 L364.5,228.1 L366.6,226 L368.7,223.9 L370.8,221.8 L372.9,219.8 L375,217.9 L377.1,216.1 L379.2,214.6 L381.4,213.3 L383.5,212.5 L385.6,212.8 L387.7,214.3 L389.8,216.9 L391.9,220.3 L394,224.4 L396.1,228.7 L398.2,232.9 L400.4,236.7 L402.5,239.7 L404.6,241.9 L406.7,243.6 L408.8,245.1 L410.9,247 L413,253.5 L415.1,261.5 L415.1,261.5 Z" fill="#ffff00"/>
<polyline points="140.8,261.5 142.9,260 145,257.8 147.1,255.2 149.2,252.4 151.3,249.4 153.4,246.2 155.5,242.9 157.6,239.4 159.8,235.9 161.9,232.3 164,228.6 166.1,224.9 168.2,221.1 170.3,217.3 172.4,213.5 174.5,209.6 176.6,205.8 178.7,201.9 180.9,198.1 183,194.3 185.1,190.6 187.2,186.9 189.3,183.2 191.4,179.6 193.5,176.1 195.6,172.6 197.7,169.3 199.9,166 202,162.8 204.1,159.7 206.2,156.7 208.3,153.8 210.4,151 212.5,148.4 214.6,145.9 216.7,143.5 218.8,141.3 221,139.1 223.1,137.2 225.2,135.4 227.3,133.7 229.4,132.2 231.5,130.8 233.6,129.6 235.7,128.6 237.8,127.7 240,127 242.1,126.4 244.2,126.1 246.3,125.9 248.4,125.8 250.5,125.9 252.6,126.1 254.7,126.5 256.8,127 258.9,127.7 261.1,128.4 263.2,129.3 265.3,130.4 267.4,131.6 269.5,132.9 271.6,134.3 273.7,135.8 275.8,137.5 277.9,139.3 280.1,141.2 282.2,143.2 284.3,145.4 286.4,147.6 288.5,150 290.6,152.4 292.7,155 294.8,157.6 296.9,160.3 299,163.2 301.2,166 303.3,169 305.4,172 307.5,175.1 309.6,178.2 311.7,181.4 313.8,184.6 315.9,187.9 318,191.2 320.2,194.5 322.3,197.8 324.4,201.1 326.5,204.4 328.6,207.7 330.7,211 332.8,214.2 334.9,217.4 337,220.6 339.1,223.7 341.3,226.8 343.4,229.8 345.5,232.7 347.6,235.6 349.7,238.4 351.8,239.9 353.9,238.1 356,236.2 358.1,234.3 360.3,232.2 362.4,230.2 364.5,228.1 366.6,226 368.7,223.9 370.8,221.8 372.9,219.8 375,217.9 377.1,216.1 379.2,214.6 381.4,213.3 383.5,212.5 385.6,212.8 387.7,214.3 389.8,216.9 391.9,220.3 394,224.4 396.1,228.7 398.2,232.9 400.4,236.7 402.5,239.7 404.6,241.9 406.7,243.6 408.8,245.1 410.9,247 413,253.5 415.1,261.5" fill="none" stroke="#000" stroke-width="1" stroke-linejoin="round"/>
<path d="M137.1,264.5 L137.1,264.5 L139.2,262.7 L141.3,260.1 L143.4,257.3 L145.5,254.1 L147.6,250.8 L149.7,247.3 L151.8,243.7 L154,240 L156.1,236.2 L158.2,232.3 L160.3,228.3 L162.4,224.3 L164.5,220.3 L166.6,216.3 L168.7,212.2 L170.8,208.1 L173,204.1 L175.1,200 L177.2,196 L179.3,192 L181.4,188.1 L183.5,184.2 L185.6,180.4 L187.7,176.6 L189.8,172.9 L191.9,169.3 L194.1,165.7 L196.2,162.3 L198.3,159 L200.4,155.7 L202.5,152.6 L204.6,149.6 L206.7,146.7 L208.8,143.9 L210.9,141.3 L213.1,138.8 L215.2,136.4 L217.3,134.2 L219.4,132.1 L221.5,130.2 L223.6,128.4 L225.7,126.8 L227.8,125.4 L229.9,124.1 L232,123 L234.2,122 L236.3,121.2 L238.4,120.6 L240.5,120.1 L242.6,119.9 L244.7,119.7 L246.8,119.8 L248.9,120 L251,120.4 L253.2,120.9 L255.3,121.6 L257.4,122.5 L259.5,123.5 L261.6,124.6 L263.7,125.9 L265.8,127.4 L267.9,129 L270,130.8 L272.1,132.7 L274.3,134.7 L276.4,136.9 L278.5,139.2 L280.6,141.7 L282.7,144.2 L284.8,146.9 L286.9,149.7 L289,152.7 L291.1,155.7 L293.3,158.8 L295.4,162 L297.5,165.3 L299.6,168.7 L301.7,172.2 L303.8,175.7 L305.9,179.3 L308,182.9 L310.1,186.6 L312.2,190.4 L314.4,194.1 L316.5,197.9 L318.6,201.7 L320.7,205.4 L322.8,209.2 L324.9,213 L327,216.7 L329.1,220.4 L331.2,224.1 L333.4,227.7 L335.5,231.2 L337.6,234.7 L339.7,238.1 L341.8,241.4 L343.9,244.3 L346,242.5 L348.1,240.7 L350.2,238.8 L352.3,236.8 L354.5,234.7 L356.6,232.6 L358.7,230.4 L360.8,228.2 L362.9,225.9 L365,223.7 L367.1,221.6 L369.2,219.5 L371.3,217.5 L373.5,215.7 L375.6,214.1 L377.7,212.8 L379.8,212.2 L381.9,212.9 L384,214.8 L386.1,217.9 L388.2,221.8 L390.3,226.3 L392.4,231 L394.6,235.6 L396.7,239.5 L398.8,242.5 L400.9,244.6 L403,246.3 L405.1,247.9 L407.2,250 L409.3,256.6 L411.4,264.5 L411.4,264.5 Z" fill="#ffff00"/>
<polyline points="137.1,264.5 139.2,262.7 141.3,260.1 143.4,257.3 145.5,254.1 147.6,250.8 149.7,247.3 151.8,243.7 154,240 156.1,236.2 158.2,232.3 160.3,228.3 162.4,224.3 164.5,220.3 166.6,216.3 168.7,212.2 170.8,208.1 173,204.1 175.1,200 177.2,196 179.3,192 181.4,188.1 183.5,184.2 185.6,180.4 187.7,176.6 189.8,172.9 191.9,169.3 194.1,165.7 196.2,162.3 198.3,159 200.4,155.7 202.5,152.6 204.6,149.6 206.7,146.7 208.8,143.9 210.9,141.3 213.1,138.8 215.2,136.4 217.3,134.2 219.4,132.1 221.5,130.2 223.6,128.4 225.7,126.8 227.8,125.4 229.9,124.1 232,123 234.2,122 236.3,121.2 238.4,120.6 240.5,120.1 242.6,119.9 244.7,119.7 246.8,119.8 248.9,120 251,120.4 253.2,120.9 255.3,121.6 257.4,122.5 259.5,123.5 261.6,124.6 263.7,125.9 265.8,127.4 267.9,129 270,130.8 272.1,132.7 274.3,134.7 276.4,136.9 278.5,139.2 280.6,141.7 282.7,144.2 284.8,146.9 286.9,149.7 289,152.7 291.1,155.7 293.3,158.8 295.4,162 297.5,165.3 299.6,168.7 301.7,172.2 303.8,175.7 305.9,179.3 308,182.9 310.1,186.6 312.2,190.4 314.4,194.1 316.5,197.9 318.6,201.7 320.7,205.4 322.8,209.2 324.9,213 327,216.7 329.1,220.4 331.2,224.1 333.4,227.7 335.5,231.2 337.6,234.7 339.7,238.1 341.8,241.4 343.9,244.3 346,242.5 348.1,240.7 350.2,238.8 352.3,236.8 354.5,234.7 356.6,232.6 358.7,230.4 360.8,228.2 362.9,225.9 365,223.7 367.1,221.6 369.2,219.5 371.3,217.5 373.5,215.7 375.6,214.1 377.7,212.8 379.8,212.2 381.9,212.9 384,214.8 386.1,217.9 388.2,221.8 390.3,226.3 392.4,231 394.6,235.6 396.7,239.5 398.8,242.5 400.9,244.6 403,246.3 405.1,247.9 407.2,250 409.3,256.6 411.4,264.5" fill="none" stroke="#000" stroke-width="1" stroke-linejoin="round"/>
<path d="M133.4,268.5 L133.4,268.5 L135.5,266.3 L137.6,263.5 L139.7,260.3 L141.8,256.8 L143.9,253.2 L146.1,249.4 L148.2,245.5 L150.3,241.5 L152.4,237.5 L154.5,233.4 L156.6,229.2 L158.7,225 L160.8,220.7 L162.9,216.5 L165,212.2 L167.2,208 L169.3,203.7 L171.4,199.5 L173.5,195.4 L175.6,191.2 L177.7,187.1 L179.8,183.1 L181.9,179.1 L184,175.2 L186.2,171.4 L188.3,167.7 L190.4,164 L192.5,160.5 L194.6,157 L196.7,153.7 L198.8,150.4 L200.9,147.3 L203,144.3 L205.1,141.5 L207.3,138.8 L209.4,136.2 L211.5,133.7 L213.6,131.4 L215.7,129.3 L217.8,127.3 L219.9,125.4 L222,123.7 L224.1,122.2 L226.3,120.8 L228.4,119.6 L230.5,118.6 L232.6,117.8 L234.7,117.1 L236.8,116.5 L238.9,116.2 L241,116 L243.1,116 L245.2,116.2 L247.4,116.5 L249.5,117.1 L251.6,117.8 L253.7,118.7 L255.8,119.8 L257.9,121.1 L260,122.5 L262.1,124.2 L264.2,126 L266.4,127.9 L268.5,130 L270.6,132.3 L272.7,134.8 L274.8,137.4 L276.9,140.1 L279,143 L281.1,146.1 L283.2,149.2 L285.3,152.5 L287.5,155.9 L289.6,159.4 L291.7,163.1 L293.8,166.8 L295.9,170.6 L298,174.5 L300.1,178.5 L302.2,182.6 L304.3,186.7 L306.4,190.8 L308.6,195 L310.7,199.2 L312.8,203.4 L314.9,207.7 L317,211.9 L319.1,216.2 L321.2,220.4 L323.3,224.5 L325.4,228.7 L327.6,232.7 L329.7,236.7 L331.8,240.7 L333.9,244.5 L336,248.3 L338.1,248 L340.2,246.3 L342.3,244.4 L344.4,242.4 L346.5,240.4 L348.7,238.2 L350.8,236 L352.9,233.8 L355,231.5 L357.1,229.1 L359.2,226.8 L361.3,224.5 L363.4,222.2 L365.5,220.1 L367.7,218 L369.8,216.2 L371.9,214.6 L374,213.4 L376.1,213 L378.2,214.1 L380.3,216.6 L382.4,220.1 L384.5,224.6 L386.6,229.6 L388.8,234.6 L390.9,239.4 L393,243.4 L395.1,246.3 L397.2,248.4 L399.3,250 L401.4,251.8 L403.5,254.1 L405.6,260.9 L407.8,268.5 L407.8,268.5 Z" fill="#ffff00"/>
<polyline points="133.4,268.5 135.5,266.3 137.6,263.5 139.7,260.3 141.8,256.8 143.9,253.2 146.1,249.4 148.2,245.5 150.3,241.5 152.4,237.5 154.5,233.4 156.6,229.2 158.7,225 160.8,220.7 162.9,216.5 165,212.2 167.2,208 169.3,203.7 171.4,199.5 173.5,195.4 175.6,191.2 177.7,187.1 179.8,183.1 181.9,179.1 184,175.2 186.2,171.4 188.3,167.7 190.4,164 192.5,160.5 194.6,157 196.7,153.7 198.8,150.4 200.9,147.3 203,144.3 205.1,141.5 207.3,138.8 209.4,136.2 211.5,133.7 213.6,131.4 215.7,129.3 217.8,127.3 219.9,125.4 222,123.7 224.1,122.2 226.3,120.8 228.4,119.6 230.5,118.6 232.6,117.8 234.7,117.1 236.8,116.5 238.9,116.2 241,116 243.1,116 245.2,116.2 247.4,116.5 249.5,117.1 251.6,117.8 253.7,118.7 255.8,119.8 257.9,121.1 260,122.5 262.1,124.2 264.2,126 266.4,127.9 268.5,130 270.6,132.3 272.7,134.8 274.8,137.4 276.9,140.1 279,143 281.1,146.1 283.2,149.2 285.3,152.5 287.5,155.9 289.6,159.4 291.7,163.1 293.8,166.8 295.9,170.6 298,174.5 300.1,178.5 302.2,182.6 304.3,186.7 306.4,190.8 308.6,195 310.7,199.2 312.8,203.4 314.9,207.7 317,211.9 319.1,216.2 321.2,220.4 323.3,224.5 325.4,228.7 327.6,232.7 329.7,236.7 331.8,240.7 333.9,244.5 336,248.3 338.1,248 340.2,246.3 342.3,244.4 344.4,242.4 346.5,240.4 348.7,238.2 350.8,236 352.9,233.8 355,231.5 357.1,229.1 359.2,226.8 361.3,224.5 363.4,222.2 365.5,220.1 367.7,218 369.8,216.2 371.9,214.6 374,213.4 376.1,213 378.2,214.1 380.3,216.6 382.4,220.1 384.5,224.6 386.6,229.6 388.8,234.6 390.9,239.4 393,243.4 395.1,246.3 397.2,248.4 399.3,250 401.4,251.8 403.5,254.1 405.6,260.9 407.8,268.5" fill="none" stroke="#000" stroke-width="1" stroke-linejoin="round"/>
<path d="M129.7,271.5 L129.7,271.5 L131.8,269.5 L133.9,266.9 L136,263.9 L138.1,260.7 L140.3,257.4 L142.4,253.9 L144.5,250.3 L146.6,246.6 L148.7,242.8 L150.8,239 L152.9,235.1 L155,231.2 L157.1,227.2 L159.3,223.3 L161.4,219.3 L163.5,215.3 L165.6,211.4 L167.7,207.4 L169.8,203.5 L171.9,199.6 L174,195.7 L176.1,191.9 L178.2,188.1 L180.4,184.4 L182.5,180.7 L184.6,177.1 L186.7,173.6 L188.8,170.2 L190.9,166.8 L193,163.5 L195.1,160.4 L197.2,157.3 L199.4,154.3 L201.5,151.5 L203.6,148.7 L205.7,146.1 L207.8,143.5 L209.9,141.1 L212,138.9 L214.1,136.7 L216.2,134.7 L218.3,132.8 L220.5,131.1 L222.6,129.5 L224.7,128 L226.8,126.7 L228.9,125.5 L231,124.5 L233.1,123.6 L235.2,122.9 L237.3,122.3 L239.4,121.9 L241.6,121.6 L243.7,121.5 L245.8,121.6 L247.9,121.8 L250,122.3 L252.1,122.9 L254.2,123.8 L256.3,124.8 L258.4,126.1 L260.6,127.5 L262.7,129.1 L264.8,131 L266.9,133 L269,135.1 L271.1,137.5 L273.2,140 L275.3,142.7 L277.4,145.5 L279.5,148.5 L281.7,151.6 L283.8,154.8 L285.9,158.2 L288,161.7 L290.1,165.3 L292.2,168.9 L294.3,172.7 L296.4,176.5 L298.5,180.4 L300.7,184.4 L302.8,188.4 L304.9,192.4 L307,196.5 L309.1,200.5 L311.2,204.5 L313.3,208.5 L315.4,212.5 L317.5,216.4 L319.6,220.2 L321.8,223.9 L323.9,227.5 L326,231 L328.1,234.4 L330.2,237.5 L332.3,240.4 L334.4,243.1 L336.5,245.4 L338.6,245.2 L340.8,243.1 L342.9,240.9 L345,238.6 L347.1,236.3 L349.2,233.9 L351.3,231.5 L353.4,229.1 L355.5,226.6 L357.6,224.2 L359.7,221.9 L361.9,219.6 L364,217.5 L366.1,215.7 L368.2,214.1 L370.3,213 L372.4,212.9 L374.5,214.4 L376.6,217.3 L378.7,221.4 L380.9,226.3 L383,231.6 L385.1,236.9 L387.2,241.8 L389.3,245.8 L391.4,248.7 L393.5,250.7 L395.6,252.4 L397.7,254.3 L399.8,257 L402,264 L404.1,271.5 L404.1,271.5 Z" fill="#ffff00"/>
<polyline points="129.7,271.5 131.8,269.5 133.9,266.9 136,263.9 138.1,260.7 140.3,257.4 142.4,253.9 144.5,250.3 146.6,246.6 148.7,242.8 150.8,239 152.9,235.1 155,231.2 157.1,227.2 159.3,223.3 161.4,219.3 163.5,215.3 165.6,211.4 167.7,207.4 169.8,203.5 171.9,199.6 174,195.7 176.1,191.9 178.2,188.1 180.4,184.4 182.5,180.7 184.6,177.1 186.7,173.6 188.8,170.2 190.9,166.8 193,163.5 195.1,160.4 197.2,157.3 199.4,154.3 201.5,151.5 203.6,148.7 205.7,146.1 207.8,143.5 209.9,141.1 212,138.9 214.1,136.7 216.2,134.7 218.3,132.8 220.5,131.1 222.6,129.5 224.7,128 226.8,126.7 228.9,125.5 231,124.5 233.1,123.6 235.2,122.9 237.3,122.3 239.4,121.9 241.6,121.6 243.7,121.5 245.8,121.6 247.9,121.8 250,122.3 252.1,122.9 254.2,123.8 256.3,124.8 258.4,126.1 260.6,127.5 262.7,129.1 264.8,131 266.9,133 269,135.1 271.1,137.5 273.2,140 275.3,142.7 277.4,145.5 279.5,148.5 281.7,151.6 283.8,154.8 285.9,158.2 288,161.7 290.1,165.3 292.2,168.9 294.3,172.7 296.4,176.5 298.5,180.4 300.7,184.4 302.8,188.4 304.9,192.4 307,196.5 309.1,200.5 311.2,204.5 313.3,208.5 315.4,212.5 317.5,216.4 319.6,220.2 321.8,223.9 323.9,227.5 326,231 328.1,234.4 330.2,237.5 332.3,240.4 334.4,243.1 336.5,245.4 338.6,245.2 340.8,243.1 342.9,240.9 345,238.6 347.1,236.3 349.2,233.9 351.3,231.5 353.4,229.1 355.5,226.6 357.6,224.2 359.7,221.9 361.9,219.6 364,217.5 366.1,215.7 368.2,214.1 370.3,213 372.4,212.9 374.5,214.4 376.6,217.3 378.7,221.4 380.9,226.3 383,231.6 385.1,236.9 387.2,241.8 389.3,245.8 391.4,248.7 393.5,250.7 395.6,252.4 397.7,254.3 399.8,257 402,264 404.1,271.5" fill="none" stroke="#000" stroke-width="1" stroke-linejoin="round"/>
<path d="M126,274.5 L126,274.5 L128.1,272.8 L130.2,270.6 L132.4,268.2 L134.5,265.5 L136.6,262.7 L138.7,259.8 L140.8,256.8 L142.9,253.7 L145,250.6 L147.1,247.4 L149.2,244.2 L151.3,240.9 L153.5,237.6 L155.6,234.3 L157.7,230.9 L159.8,227.6 L161.9,224.3 L164,220.9 L166.1,217.6 L168.2,214.3 L170.3,211 L172.4,207.8 L174.6,204.6 L176.7,201.4 L178.8,198.3 L180.9,195.2 L183,192.2 L185.1,189.2 L187.2,186.3 L189.3,183.5 L191.4,180.7 L193.6,178 L195.7,175.4 L197.8,172.8 L199.9,170.4 L202,168 L204.1,165.7 L206.2,163.5 L208.3,161.4 L210.4,159.4 L212.5,157.5 L214.7,155.7 L216.8,154.1 L218.9,152.5 L221,151 L223.1,149.7 L225.2,148.4 L227.3,147.3 L229.4,146.3 L231.5,145.4 L233.7,144.7 L235.8,144 L237.9,143.5 L240,143.1 L242.1,142.8 L244.2,142.6 L246.3,142.5 L248.4,142.7 L250.5,143 L252.6,143.6 L254.8,144.4 L256.9,145.3 L259,146.5 L261.1,147.9 L263.2,149.5 L265.3,151.2 L267.4,153.2 L269.5,155.3 L271.6,157.6 L273.8,160 L275.9,162.6 L278,165.4 L280.1,168.3 L282.2,171.3 L284.3,174.5 L286.4,177.8 L288.5,181.1 L290.6,184.6 L292.7,188.1 L294.9,191.7 L297,195.4 L299.1,199 L301.2,202.7 L303.3,206.5 L305.4,210.2 L307.5,213.8 L309.6,217.5 L311.7,221 L313.9,224.5 L316,227.9 L318.1,231.2 L320.2,234.3 L322.3,237.3 L324.4,240.1 L326.5,242.7 L328.6,245 L330.7,247 L332.8,248.7 L335,249.6 L337.1,248.2 L339.2,246.2 L341.3,244.2 L343.4,242 L345.5,239.9 L347.6,237.7 L349.7,235.5 L351.8,233.3 L354,231.1 L356.1,229.1 L358.2,227.1 L360.3,225.3 L362.4,223.7 L364.5,222.4 L366.6,221.6 L368.7,222 L370.8,223.9 L372.9,226.9 L375.1,230.8 L377.2,235.4 L379.3,240.2 L381.4,244.9 L383.5,249.1 L385.6,252.3 L387.7,254.6 L389.8,256.3 L391.9,257.8 L394.1,259.8 L396.2,262.4 L398.3,268.4 L400.4,274.5 L400.4,274.5 Z" fill="#ffff00"/>
<polyline points="126,274.5 128.1,272.8 130.2,270.6 132.4,268.2 134.5,265.5 136.6,262.7 138.7,259.8 140.8,256.8 142.9,253.7 145,250.6 147.1,247.4 149.2,244.2 151.3,240.9 153.5,237.6 155.6,234.3 157.7,230.9 159.8,227.6 161.9,224.3 164,220.9 166.1,217.6 168.2,214.3 170.3,211 172.4,207.8 174.6,204.6 176.7,201.4 178.8,198.3 180.9,195.2 183,192.2 185.1,189.2 187.2,186.3 189.3,183.5 191.4,180.7 193.6,178 195.7,175.4 197.8,172.8 199.9,170.4 202,168 204.1,165.7 206.2,163.5 208.3,161.4 210.4,159.4 212.5,157.5 214.7,155.7 216.8,154.1 218.9,152.5 221,151 223.1,149.7 225.2,148.4 227.3,147.3 229.4,146.3 231.5,145.4 233.7,144.7 235.8,144 237.9,143.5 240,143.1 242.1,142.8 244.2,142.6 246.3,142.5 248.4,142.7 250.5,143 252.6,143.6 254.8,144.4 256.9,145.3 259,146.5 261.1,147.9 263.2,149.5 265.3,151.2 267.4,153.2 269.5,155.3 271.6,157.6 273.8,160 275.9,162.6 278,165.4 280.1,168.3 282.2,171.3 284.3,174.5 286.4,177.8 288.5,181.1 290.6,184.6 292.7,188.1 294.9,191.7 297,195.4 299.1,199 301.2,202.7 303.3,206.5 305.4,210.2 307.5,213.8 309.6,217.5 311.7,221 313.9,224.5 316,227.9 318.1,231.2 320.2,234.3 322.3,237.3 324.4,240.1 326.5,242.7 328.6,245 330.7,247 332.8,248.7 335,249.6 337.1,248.2 339.2,246.2 341.3,244.2 343.4,242 345.5,239.9 347.6,237.7 349.7,235.5 351.8,233.3 354,231.1 356.1,229.1 358.2,227.1 360.3,225.3 362.4,223.7 364.5,222.4 366.6,221.6 368.7,222 370.8,223.9 372.9,226.9 375.1,230.8 377.2,235.4 379.3,240.2 381.4,244.9 383.5,249.1 385.6,252.3 387.7,254.6 389.8,256.3 391.9,257.8 394.1,259.8 396.2,262.4 398.3,268.4 400.4,274.5" fill="none" stroke="#000" stroke-width="1" stroke-linejoin="round"/>
<path d="M122.3,278.5 L122.3,278.5 L124.4,277.2 L126.6,275.5 L128.7,273.6 L130.8,271.6 L132.9,269.4 L135,267.1 L137.1,264.8 L139.2,262.4 L141.3,260 L143.4,257.5 L145.5,255 L147.7,252.5 L149.8,249.9 L151.9,247.3 L154,244.7 L156.1,242.1 L158.2,239.5 L160.3,236.9 L162.4,234.3 L164.5,231.7 L166.7,229.2 L168.8,226.6 L170.9,224.1 L173,221.6 L175.1,219.1 L177.2,216.7 L179.3,214.3 L181.4,211.9 L183.5,209.6 L185.6,207.3 L187.8,205.1 L189.9,202.9 L192,200.8 L194.1,198.7 L196.2,196.7 L198.3,194.8 L200.4,192.9 L202.5,191.1 L204.6,189.4 L206.8,187.7 L208.9,186.1 L211,184.6 L213.1,183.1 L215.2,181.8 L217.3,180.5 L219.4,179.3 L221.5,178.1 L223.6,177.1 L225.7,176.1 L227.9,175.3 L230,174.5 L232.1,173.8 L234.2,173.2 L236.3,172.7 L238.4,172.3 L240.5,171.9 L242.6,171.7 L244.7,171.5 L246.9,171.4 L249,171.5 L251.1,171.8 L253.2,172.3 L255.3,172.9 L257.4,173.8 L259.5,174.8 L261.6,176.1 L263.7,177.5 L265.8,179.1 L268,180.8 L270.1,182.7 L272.2,184.8 L274.3,187 L276.4,189.4 L278.5,191.8 L280.6,194.4 L282.7,197.1 L284.8,199.9 L287,202.8 L289.1,205.8 L291.2,208.8 L293.3,211.9 L295.4,215 L297.5,218.1 L299.6,221.2 L301.7,224.3 L303.8,227.4 L305.9,230.4 L308.1,233.4 L310.2,236.2 L312.3,239 L314.4,241.7 L316.5,244.2 L318.6,246.6 L320.7,248.7 L322.8,250.7 L324.9,252.4 L327.1,253.9 L329.2,254.9 L331.3,255.6 L333.4,255.5 L335.5,253.8 L337.6,252 L339.7,250.2 L341.8,248.3 L343.9,246.4 L346,244.5 L348.2,242.7 L350.3,240.9 L352.4,239.1 L354.5,237.5 L356.6,236 L358.7,234.7 L360.8,233.7 L362.9,233.3 L365,234.1 L367.2,236.1 L369.3,238.9 L371.4,242.5 L373.5,246.5 L375.6,250.7 L377.7,254.6 L379.8,257.9 L381.9,260.3 L384,262.1 L386.1,263.4 L388.3,264.8 L390.4,266.7 L392.5,269.1 L394.6,273.9 L396.7,278.5 L396.7,278.5 Z" fill="#ffff00"/>
<polyline points="122.3,278.5 124.4,277.2 126.6,275.5 128.7,273.6 130.8,271.6 132.9,269.4 135,267.1 137.1,264.8 139.2,262.4 141.3,260 143.4,257.5 145.5,255 147.7,252.5 149.8,249.9 151.9,247.3 154,244.7 156.1,242.1 158.2,239.5 160.3,236.9 162.4,234.3 164.5,231.7 166.7,229.2 168.8,226.6 170.9,224.1 173,221.6 175.1,219.1 177.2,216.7 179.3,214.3 181.4,211.9 183.5,209.6 185.6,207.3 187.8,205.1 189.9,202.9 192,200.8 194.1,198.7 196.2,196.7 198.3,194.8 200.4,192.9 202.5,191.1 204.6,189.4 206.8,187.7 208.9,186.1 211,184.6 213.1,183.1 215.2,181.8 217.3,180.5 219.4,179.3 221.5,178.1 223.6,177.1 225.7,176.1 227.9,175.3 230,174.5 232.1,173.8 234.2,173.2 236.3,172.7 238.4,172.3 240.5,171.9 242.6,171.7 244.7,171.5 246.9,171.4 249,171.5 251.1,171.8 253.2,172.3 255.3,172.9 257.4,173.8 259.5,174.8 261.6,176.1 263.7,177.5 265.8,179.1 268,180.8 270.1,182.7 272.2,184.8 274.3,187 276.4,189.4 278.5,191.8 280.6,194.4 282.7,197.1 284.8,199.9 287,202.8 289.1,205.8 291.2,208.8 293.3,211.9 295.4,215 297.5,218.1 299.6,221.2 301.7,224.3 303.8,227.4 305.9,230.4 308.1,233.4 310.2,236.2 312.3,239 314.4,241.7 316.5,244.2 318.6,246.6 320.7,248.7 322.8,250.7 324.9,252.4 327.1,253.9 329.2,254.9 331.3,255.6 333.4,255.5 335.5,253.8 337.6,252 339.7,250.2 341.8,248.3 343.9,246.4 346,244.5 348.2,242.7 350.3,240.9 352.4,239.1 354.5,237.5 356.6,236 358.7,234.7 360.8,233.7 362.9,233.3 365,234.1 367.2,236.1 369.3,238.9 371.4,242.5 373.5,246.5 375.6,250.7 377.7,254.6 379.8,257.9 381.9,260.3 384,262.1 386.1,263.4 388.3,264.8 390.4,266.7 392.5,269.1 394.6,273.9 396.7,278.5" fill="none" stroke="#000" stroke-width="1" stroke-linejoin="round"/>
<path d="M118.6,281.5 L118.6,281.5 L120.8,280.6 L122.9,279.4 L125,278 L127.1,276.6 L129.2,275 L131.3,273.4 L133.4,271.7 L135.5,270 L137.6,268.3 L139.8,266.5 L141.9,264.7 L144,262.9 L146.1,261.1 L148.2,259.2 L150.3,257.4 L152.4,255.5 L154.5,253.6 L156.6,251.8 L158.7,249.9 L160.9,248 L163,246.2 L165.1,244.3 L167.2,242.5 L169.3,240.7 L171.4,238.9 L173.5,237.1 L175.6,235.4 L177.7,233.7 L179.9,232 L182,230.3 L184.1,228.7 L186.2,227.1 L188.3,225.5 L190.4,224 L192.5,222.5 L194.6,221 L196.7,219.6 L198.8,218.3 L201,216.9 L203.1,215.7 L205.2,214.5 L207.3,213.3 L209.4,212.2 L211.5,211.1 L213.6,210.1 L215.7,209.1 L217.8,208.2 L220,207.4 L222.1,206.6 L224.2,205.9 L226.3,205.2 L228.4,204.6 L230.5,204 L232.6,203.5 L234.7,203.1 L236.8,202.7 L238.9,202.4 L241.1,202.2 L243.2,202 L245.3,201.9 L247.4,201.8 L249.5,201.8 L251.6,202 L253.7,202.4 L255.8,202.8 L257.9,203.5 L260.1,204.2 L262.2,205.1 L264.3,206.2 L266.4,207.3 L268.5,208.6 L270.6,210.1 L272.7,211.6 L274.8,213.2 L276.9,215 L279,216.8 L281.2,218.7 L283.3,220.7 L285.4,222.7 L287.5,224.9 L289.6,227 L291.7,229.2 L293.8,231.4 L295.9,233.7 L298,235.9 L300.2,238.2 L302.3,240.4 L304.4,242.5 L306.5,244.7 L308.6,246.7 L310.7,248.7 L312.8,250.6 L314.9,252.5 L317,254.1 L319.1,255.7 L321.3,257.1 L323.4,258.3 L325.5,259.3 L327.6,260.1 L329.7,260.6 L331.8,260.7 L333.9,259.8 L336,258.3 L338.1,256.8 L340.3,255.3 L342.4,253.8 L344.5,252.3 L346.6,250.9 L348.7,249.5 L350.8,248.2 L352.9,247.1 L355,246.1 L357.1,245.5 L359.2,245.5 L361.4,246.5 L363.5,248.3 L365.6,250.8 L367.7,253.8 L369.8,257.1 L371.9,260.4 L374,263.3 L376.1,265.7 L378.2,267.5 L380.4,268.7 L382.5,269.8 L384.6,271 L386.7,272.7 L388.8,274.7 L390.9,278.3 L393,281.5 L393,281.5 Z" fill="#ffff00"/>
<polyline points="118.6,281.5 120.8,280.6 122.9,279.4 125,278 127.1,276.6 129.2,275 131.3,273.4 133.4,271.7 135.5,270 137.6,268.3 139.8,266.5 141.9,264.7 144,262.9 146.1,261.1 148.2,259.2 150.3,257.4 152.4,255.5 154.5,253.6 156.6,251.8 158.7,249.9 160.9,248 163,246.2 165.1,244.3 167.2,242.5 169.3,240.7 171.4,238.9 173.5,237.1 175.6,235.4 177.7,233.7 179.9,232 182,230.3 184.1,228.7 186.2,227.1 188.3,225.5 190.4,224 192.5,222.5 194.6,221 196.7,219.6 198.8,218.3 201,216.9 203.1,215.7 205.2,214.5 207.3,213.3 209.4,212.2 211.5,211.1 213.6,210.1 215.7,209.1 217.8,208.2 220,207.4 222.1,206.6 224.2,205.9 226.3,205.2 228.4,204.6 230.5,204 232.6,203.5 234.7,203.1 236.8,202.7 238.9,202.4 241.1,202.2 243.2,202 245.3,201.9 247.4,201.8 249.5,201.8 251.6,202 253.7,202.4 255.8,202.8 257.9,203.5 260.1,204.2 262.2,205.1 264.3,206.2 266.4,207.3 268.5,208.6 270.6,210.1 272.7,211.6 274.8,213.2 276.9,215 279,216.8 281.2,218.7 283.3,220.7 285.4,222.7 287.5,224.9 289.6,227 291.7,229.2 293.8,231.4 295.9,233.7 298,235.9 300.2,238.2 302.3,240.4 304.4,242.5 306.5,244.7 308.6,246.7 310.7,248.7 312.8,250.6 314.9,252.5 317,254.1 319.1,255.7 321.3,257.1 323.4,258.3 325.5,259.3 327.6,260.1 329.7,260.6 331.8,260.7 333.9,259.8 336,258.3 338.1,256.8 340.3,255.3 342.4,253.8 344.5,252.3 346.6,250.9 348.7,249.5 350.8,248.2 352.9,247.1 355,246.1 357.1,245.5 359.2,245.5 361.4,246.5 363.5,248.3 365.6,250.8 367.7,253.8 369.8,257.1 371.9,260.4 374,263.3 376.1,265.7 378.2,267.5 380.4,268.7 382.5,269.8 384.6,271 386.7,272.7 388.8,274.7 390.9,278.3 393,281.5" fill="none" stroke="#000" stroke-width="1" stroke-linejoin="round"/>
<path d="M115,284.5 L115,284.5 L117.1,284 L119.2,283.3 L121.3,282.5 L123.4,281.6 L125.5,280.7 L127.6,279.8 L129.7,278.8 L131.8,277.8 L134,276.8 L136.1,275.7 L138.2,274.7 L140.3,273.6 L142.4,272.6 L144.5,271.5 L146.6,270.4 L148.7,269.3 L150.8,268.2 L153,267.1 L155.1,266 L157.2,264.9 L159.3,263.8 L161.4,262.7 L163.5,261.7 L165.6,260.6 L167.7,259.5 L169.8,258.5 L171.9,257.5 L174.1,256.5 L176.2,255.5 L178.3,254.5 L180.4,253.5 L182.5,252.6 L184.6,251.6 L186.7,250.7 L188.8,249.9 L190.9,249 L193.1,248.2 L195.2,247.4 L197.3,246.6 L199.4,245.8 L201.5,245.1 L203.6,244.4 L205.7,243.7 L207.8,243.1 L209.9,242.5 L212,241.9 L214.2,241.4 L216.3,240.9 L218.4,240.4 L220.5,239.9 L222.6,239.5 L224.7,239.1 L226.8,238.8 L228.9,238.5 L231,238.2 L233.2,238 L235.3,237.8 L237.4,237.6 L239.5,237.5 L241.6,237.4 L243.7,237.3 L245.8,237.3 L247.9,237.3 L250,237.4 L252.1,237.6 L254.3,237.9 L256.4,238.3 L258.5,238.8 L260.6,239.3 L262.7,239.9 L264.8,240.5 L266.9,241.3 L269,242.1 L271.1,242.9 L273.3,243.8 L275.4,244.8 L277.5,245.8 L279.6,246.9 L281.7,247.9 L283.8,249.1 L285.9,250.2 L288,251.4 L290.1,252.6 L292.2,253.7 L294.4,254.9 L296.5,256.1 L298.6,257.3 L300.7,258.4 L302.8,259.5 L304.9,260.6 L307,261.6 L309.1,262.6 L311.2,263.5 L313.3,264.3 L315.5,265.1 L317.6,265.8 L319.7,266.4 L321.8,266.9 L323.9,267.3 L326,267.5 L328.1,267.7 L330.2,267.6 L332.3,267.1 L334.5,266 L336.6,264.9 L338.7,263.8 L340.8,262.8 L342.9,261.7 L345,260.7 L347.1,259.8 L349.2,259 L351.3,258.4 L353.4,258 L355.6,258.3 L357.7,259.2 L359.8,260.8 L361.9,262.7 L364,265 L366.1,267.5 L368.2,269.8 L370.3,271.9 L372.4,273.5 L374.6,274.6 L376.7,275.4 L378.8,276.2 L380.9,277.2 L383,278.5 L385.1,280 L387.2,282.5 L389.3,284.5 L389.3,284.5 Z" fill="#ffff00"/>
<polyline points="115,284.5 117.1,284 119.2,283.3 121.3,282.5 123.4,281.6 125.5,280.7 127.6,279.8 129.7,278.8 131.8,277.8 134,276.8 136.1,275.7 138.2,274.7 140.3,273.6 142.4,272.6 144.5,271.5 146.6,270.4 148.7,269.3 150.8,268.2 153,267.1 155.1,266 157.2,264.9 159.3,263.8 161.4,262.7 163.5,261.7 165.6,260.6 167.7,259.5 169.8,258.5 171.9,257.5 174.1,256.5 176.2,255.5 178.3,254.5 180.4,253.5 182.5,252.6 184.6,251.6 186.7,250.7 188.8,249.9 190.9,249 193.1,248.2 195.2,247.4 197.3,246.6 199.4,245.8 201.5,245.1 203.6,244.4 205.7,243.7 207.8,243.1 209.9,242.5 212,241.9 214.2,241.4 216.3,240.9 218.4,240.4 220.5,239.9 222.6,239.5 224.7,239.1 226.8,238.8 228.9,238.5 231,238.2 233.2,238 235.3,237.8 237.4,237.6 239.5,237.5 241.6,237.4 243.7,237.3 245.8,237.3 247.9,237.3 250,237.4 252.1,237.6 254.3,237.9 256.4,238.3 258.5,238.8 260.6,239.3 262.7,239.9 264.8,240.5 266.9,241.3 269,242.1 271.1,242.9 273.3,243.8 275.4,244.8 277.5,245.8 279.6,246.9 281.7,247.9 283.8,249.1 285.9,250.2 288,251.4 290.1,252.6 292.2,253.7 294.4,254.9 296.5,256.1 298.6,257.3 300.7,258.4 302.8,259.5 304.9,260.6 307,261.6 309.1,262.6 311.2,263.5 313.3,264.3 315.5,265.1 317.6,265.8 319.7,266.4 321.8,266.9 323.9,267.3 326,267.5 328.1,267.7 330.2,267.6 332.3,267.1 334.5,266 336.6,264.9 338.7,263.8 340.8,262.8 342.9,261.7 345,260.7 347.1,259.8 349.2,259 351.3,258.4 353.4,258 355.6,258.3 357.7,259.2 359.8,260.8 361.9,262.7 364,265 366.1,267.5 368.2,269.8 370.3,271.9 372.4,273.5 374.6,274.6 376.7,275.4 378.8,276.2 380.9,277.2 383,278.5 385.1,280 387.2,282.5 389.3,284.5" fill="none" stroke="#000" stroke-width="1" stroke-linejoin="round"/>
<path d="M111.3,288.5 L111.3,288.5 L113.4,288.3 L115.5,288 L117.6,287.6 L119.7,287.2 L121.8,286.8 L123.9,286.4 L126.1,286 L128.2,285.6 L130.3,285.1 L132.4,284.7 L134.5,284.2 L136.6,283.7 L138.7,283.3 L140.8,282.8 L142.9,282.3 L145,281.8 L147.2,281.3 L149.3,280.8 L151.4,280.4 L153.5,279.9 L155.6,279.4 L157.7,278.9 L159.8,278.4 L161.9,278 L164,277.5 L166.2,277 L168.3,276.6 L170.4,276.1 L172.5,275.6 L174.6,275.2 L176.7,274.8 L178.8,274.3 L180.9,273.9 L183,273.5 L185.1,273.1 L187.3,272.7 L189.4,272.3 L191.5,271.9 L193.6,271.6 L195.7,271.2 L197.8,270.9 L199.9,270.5 L202,270.2 L204.1,269.9 L206.3,269.6 L208.4,269.3 L210.5,269.1 L212.6,268.8 L214.7,268.6 L216.8,268.3 L218.9,268.1 L221,267.9 L223.1,267.7 L225.2,267.5 L227.4,267.4 L229.5,267.2 L231.6,267.1 L233.7,267 L235.8,266.9 L237.9,266.8 L240,266.7 L242.1,266.6 L244.2,266.6 L246.3,266.5 L248.5,266.5 L250.6,266.5 L252.7,266.6 L254.8,266.7 L256.9,266.8 L259,266.9 L261.1,267.1 L263.2,267.4 L265.3,267.6 L267.5,267.9 L269.6,268.2 L271.7,268.6 L273.8,268.9 L275.9,269.3 L278,269.7 L280.1,270.2 L282.2,270.6 L284.3,271 L286.4,271.5 L288.6,271.9 L290.7,272.4 L292.8,272.8 L294.9,273.2 L297,273.7 L299.1,274.1 L301.2,274.4 L303.3,274.8 L305.4,275.1 L307.6,275.4 L309.7,275.7 L311.8,275.9 L313.9,276.1 L316,276.2 L318.1,276.3 L320.2,276.3 L322.3,276.3 L324.4,276.2 L326.5,276.1 L328.7,275.8 L330.8,275.5 L332.9,274.9 L335,274.1 L337.1,273.4 L339.2,272.7 L341.3,272.1 L343.4,271.5 L345.5,270.9 L347.7,270.6 L349.8,270.4 L351.9,270.8 L354,271.6 L356.1,272.7 L358.2,274.2 L360.3,275.8 L362.4,277.4 L364.5,279 L366.6,280.3 L368.8,281.3 L370.9,282 L373,282.5 L375.1,283 L377.2,283.8 L379.3,284.8 L381.4,285.8 L383.5,287.3 L385.6,288.5 L385.6,288.5 Z" fill="#ffff00"/>
<polyline points="111.3,288.5 113.4,288.3 115.5,288 117.6,287.6 119.7,287.2 121.8,286.8 123.9,286.4 126.1,286 128.2,285.6 130.3,285.1 132.4,284.7 134.5,284.2 136.6,283.7 138.7,283.3 140.8,282.8 142.9,282.3 145,281.8 147.2,281.3 149.3,280.8 151.4,280.4 153.5,279.9 155.6,279.4 157.7,278.9 159.8,278.4 161.9,278 164,277.5 166.2,277 168.3,276.6 170.4,276.1 172.5,275.6 174.6,275.2 176.7,274.8 178.8,274.3 180.9,273.9 183,273.5 185.1,273.1 187.3,272.7 189.4,272.3 191.5,271.9 193.6,271.6 195.7,271.2 197.8,270.9 199.9,270.5 202,270.2 204.1,269.9 206.3,269.6 208.4,269.3 210.5,269.1 212.6,268.8 214.7,268.6 216.8,268.3 218.9,268.1 221,267.9 223.1,267.7 225.2,267.5 227.4,267.4 229.5,267.2 231.6,267.1 233.7,267 235.8,266.9 237.9,266.8 240,266.7 242.1,266.6 244.2,266.6 246.3,266.5 248.5,266.5 250.6,266.5 252.7,266.6 254.8,266.7 256.9,266.8 259,266.9 261.1,267.1 263.2,267.4 265.3,267.6 267.5,267.9 269.6,268.2 271.7,268.6 273.8,268.9 275.9,269.3 278,269.7 280.1,270.2 282.2,270.6 284.3,271 286.4,271.5 288.6,271.9 290.7,272.4 292.8,272.8 294.9,273.2 297,273.7 299.1,274.1 301.2,274.4 303.3,274.8 305.4,275.1 307.6,275.4 309.7,275.7 311.8,275.9 313.9,276.1 316,276.2 318.1,276.3 320.2,276.3 322.3,276.3 324.4,276.2 326.5,276.1 328.7,275.8 330.8,275.5 332.9,274.9 335,274.1 337.1,273.4 339.2,272.7 341.3,272.1 343.4,271.5 345.5,270.9 347.7,270.6 349.8,270.4 351.9,270.8 354,271.6 356.1,272.7 358.2,274.2 360.3,275.8 362.4,277.4 364.5,279 366.6,280.3 368.8,281.3 370.9,282 373,282.5 375.1,283 377.2,283.8 379.3,284.8 381.4,285.8 383.5,287.3 385.6,288.5" fill="none" stroke="#000" stroke-width="1" stroke-linejoin="round"/>
<path d="M107.6,291.5 L107.6,291.5 L109.7,291.4 L111.8,291.3 L113.9,291.1 L116,290.9 L118.1,290.7 L120.3,290.6 L122.4,290.4 L124.5,290.2 L126.6,290 L128.7,289.8 L130.8,289.5 L132.9,289.3 L135,289.1 L137.1,288.9 L139.3,288.7 L141.4,288.5 L143.5,288.2 L145.6,288 L147.7,287.8 L149.8,287.6 L151.9,287.4 L154,287.1 L156.1,286.9 L158.2,286.7 L160.4,286.5 L162.5,286.3 L164.6,286.1 L166.7,285.8 L168.8,285.6 L170.9,285.4 L173,285.2 L175.1,285 L177.2,284.8 L179.3,284.7 L181.5,284.5 L183.6,284.3 L185.7,284.1 L187.8,283.9 L189.9,283.8 L192,283.6 L194.1,283.5 L196.2,283.3 L198.3,283.1 L200.5,283 L202.6,282.9 L204.7,282.7 L206.8,282.6 L208.9,282.5 L211,282.4 L213.1,282.3 L215.2,282.2 L217.3,282.1 L219.4,282 L221.6,281.9 L223.7,281.8 L225.8,281.7 L227.9,281.7 L230,281.6 L232.1,281.6 L234.2,281.5 L236.3,281.5 L238.4,281.4 L240.6,281.4 L242.7,281.4 L244.8,281.3 L246.9,281.3 L249,281.3 L251.1,281.3 L253.2,281.4 L255.3,281.4 L257.4,281.5 L259.5,281.5 L261.7,281.6 L263.8,281.7 L265.9,281.8 L268,282 L270.1,282.1 L272.2,282.2 L274.3,282.4 L276.4,282.5 L278.5,282.6 L280.7,282.8 L282.8,282.9 L284.9,283.1 L287,283.2 L289.1,283.3 L291.2,283.4 L293.3,283.6 L295.4,283.7 L297.5,283.7 L299.6,283.8 L301.8,283.9 L303.9,283.9 L306,283.9 L308.1,283.9 L310.2,283.9 L312.3,283.8 L314.4,283.7 L316.5,283.6 L318.6,283.5 L320.8,283.3 L322.9,283.2 L325,283 L327.1,282.7 L329.2,282.4 L331.3,282.1 L333.4,281.6 L335.5,281.2 L337.6,280.8 L339.7,280.4 L341.9,280.1 L344,279.9 L346.1,279.9 L348.2,280.3 L350.3,280.9 L352.4,281.7 L354.5,282.6 L356.6,283.7 L358.7,284.8 L360.9,285.7 L363,286.5 L365.1,287 L367.2,287.4 L369.3,287.7 L371.4,288.1 L373.5,288.7 L375.6,289.3 L377.7,290 L379.8,290.9 L382,291.5 L382,291.5 Z" fill="#ffff00"/>
<polyline points="107.6,291.5 109.7,291.4 111.8,291.3 113.9,291.1 116,290.9 118.1,290.7 120.3,290.6 122.4,290.4 124.5,290.2 126.6,290 128.7,289.8 130.8,289.5 132.9,289.3 135,289.1 137.1,288.9 139.3,288.7 141.4,288.5 143.5,288.2 145.6,288 147.7,287.8 149.8,287.6 151.9,287.4 154,287.1 156.1,286.9 158.2,286.7 160.4,286.5 162.5,286.3 164.6,286.1 166.7,285.8 168.8,285.6 170.9,285.4 173,285.2 175.1,285 177.2,284.8 179.3,284.7 181.5,284.5 183.6,284.3 185.7,284.1 187.8,283.9 189.9,283.8 192,283.6 194.1,283.5 196.2,283.3 198.3,283.1 200.5,283 202.6,282.9 204.7,282.7 206.8,282.6 208.9,282.5 211,282.4 213.1,282.3 215.2,282.2 217.3,282.1 219.4,282 221.6,281.9 223.7,281.8 225.8,281.7 227.9,281.7 230,281.6 232.1,281.6 234.2,281.5 236.3,281.5 238.4,281.4 240.6,281.4 242.7,281.4 244.8,281.3 246.9,281.3 249,281.3 251.1,281.3 253.2,281.4 255.3,281.4 257.4,281.5 259.5,281.5 261.7,281.6 263.8,281.7 265.9,281.8 268,282 270.1,282.1 272.2,282.2 274.3,282.4 276.4,282.5 278.5,282.6 280.7,282.8 282.8,282.9 284.9,283.1 287,283.2 289.1,283.3 291.2,283.4 293.3,283.6 295.4,283.7 297.5,283.7 299.6,283.8 301.8,283.9 303.9,283.9 306,283.9 308.1,283.9 310.2,283.9 312.3,283.8 314.4,283.7 316.5,283.6 318.6,283.5 320.8,283.3 322.9,283.2 325,283 327.1,282.7 329.2,282.4 331.3,282.1 333.4,281.6 335.5,281.2 337.6,280.8 339.7,280.4 341.9,280.1 344,279.9 346.1,279.9 348.2,280.3 350.3,280.9 352.4,281.7 354.5,282.6 356.6,283.7 358.7,284.8 360.9,285.7 363,286.5 365.1,287 367.2,287.4 369.3,287.7 371.4,288.1 373.5,288.7 375.6,289.3 377.7,290 379.8,290.9 382,291.5" fill="none" stroke="#000" stroke-width="1" stroke-linejoin="round"/>
<path d="M103.9,294.5 L103.9,294.5 L106,294.5 L108.1,294.4 L110.2,294.3 L112.3,294.3 L114.5,294.2 L116.6,294.1 L118.7,294.1 L120.8,294 L122.9,293.9 L125,293.8 L127.1,293.7 L129.2,293.7 L131.3,293.6 L133.5,293.5 L135.6,293.4 L137.7,293.3 L139.8,293.2 L141.9,293.2 L144,293.1 L146.1,293 L148.2,292.9 L150.3,292.8 L152.4,292.7 L154.6,292.6 L156.7,292.6 L158.8,292.5 L160.9,292.4 L163,292.3 L165.1,292.2 L167.2,292.2 L169.3,292.1 L171.4,292 L173.6,291.9 L175.7,291.9 L177.8,291.8 L179.9,291.7 L182,291.6 L184.1,291.6 L186.2,291.5 L188.3,291.4 L190.4,291.4 L192.5,291.3 L194.7,291.3 L196.8,291.2 L198.9,291.2 L201,291.1 L203.1,291.1 L205.2,291 L207.3,291 L209.4,290.9 L211.5,290.9 L213.7,290.8 L215.8,290.8 L217.9,290.8 L220,290.7 L222.1,290.7 L224.2,290.7 L226.3,290.7 L228.4,290.6 L230.5,290.6 L232.6,290.6 L234.8,290.6 L236.9,290.6 L239,290.6 L241.1,290.5 L243.2,290.5 L245.3,290.5 L247.4,290.5 L249.5,290.5 L251.6,290.6 L253.8,290.6 L255.9,290.6 L258,290.6 L260.1,290.7 L262.2,290.7 L264.3,290.7 L266.4,290.8 L268.5,290.8 L270.6,290.9 L272.7,290.9 L274.9,290.9 L277,291 L279.1,291 L281.2,291.1 L283.3,291.1 L285.4,291.1 L287.5,291.1 L289.6,291.2 L291.7,291.2 L293.9,291.2 L296,291.2 L298.1,291.2 L300.2,291.1 L302.3,291.1 L304.4,291.1 L306.5,291 L308.6,290.9 L310.7,290.9 L312.8,290.8 L315,290.7 L317.1,290.6 L319.2,290.4 L321.3,290.3 L323.4,290.1 L325.5,290 L327.6,289.8 L329.7,289.6 L331.8,289.3 L334,289.1 L336.1,289 L338.2,288.8 L340.3,288.7 L342.4,288.7 L344.5,288.9 L346.6,289.2 L348.7,289.6 L350.8,290.1 L352.9,290.6 L355.1,291.1 L357.2,291.6 L359.3,292 L361.4,292.3 L363.5,292.5 L365.6,292.6 L367.7,292.8 L369.8,293.1 L371.9,293.4 L374.1,293.7 L376.2,294.2 L378.3,294.5 L378.3,294.5 Z" fill="#ffff00"/>
<polyline points="103.9,294.5 106,294.5 108.1,294.4 110.2,294.3 112.3,294.3 114.5,294.2 116.6,294.1 118.7,294.1 120.8,294 122.9,293.9 125,293.8 127.1,293.7 129.2,293.7 131.3,293.6 133.5,293.5 135.6,293.4 137.7,293.3 139.8,293.2 141.9,293.2 144,293.1 146.1,293 148.2,292.9 150.3,292.8 152.4,292.7 154.6,292.6 156.7,292.6 158.8,292.5 160.9,292.4 163,292.3 165.1,292.2 167.2,292.2 169.3,292.1 171.4,292 173.6,291.9 175.7,291.9 177.8,291.8 179.9,291.7 182,291.6 184.1,291.6 186.2,291.5 188.3,291.4 190.4,291.4 192.5,291.3 194.7,291.3 196.8,291.2 198.9,291.2 201,291.1 203.1,291.1 205.2,291 207.3,291 209.4,290.9 211.5,290.9 213.7,290.8 215.8,290.8 217.9,290.8 220,290.7 222.1,290.7 224.2,290.7 226.3,290.7 228.4,290.6 230.5,290.6 232.6,290.6 234.8,290.6 236.9,290.6 239,290.6 241.1,290.5 243.2,290.5 245.3,290.5 247.4,290.5 249.5,290.5 251.6,290.6 253.8,290.6 255.9,290.6 258,290.6 260.1,290.7 262.2,290.7 264.3,290.7 266.4,290.8 268.5,290.8 270.6,290.9 272.7,290.9 274.9,290.9 277,291 279.1,291 281.2,291.1 283.3,291.1 285.4,291.1 287.5,291.1 289.6,291.2 291.7,291.2 293.9,291.2 296,291.2 298.1,291.2 300.2,291.1 302.3,291.1 304.4,291.1 306.5,291 308.6,290.9 310.7,290.9 312.8,290.8 315,290.7 317.1,290.6 319.2,290.4 321.3,290.3 323.4,290.1 325.5,290 327.6,289.8 329.7,289.6 331.8,289.3 334,289.1 336.1,289 338.2,288.8 340.3,288.7 342.4,288.7 344.5,288.9 346.6,289.2 348.7,289.6 350.8,290.1 352.9,290.6 355.1,291.1 357.2,291.6 359.3,292 361.4,292.3 363.5,292.5 365.6,292.6 367.7,292.8 369.8,293.1 371.9,293.4 374.1,293.7 376.2,294.2 378.3,294.5" fill="none" stroke="#000" stroke-width="1" stroke-linejoin="round"/>
<path d="M100.2,298.5 L100.2,298.5 L102.3,298.5 L104.4,298.5 L106.6,298.4 L108.7,298.4 L110.8,298.4 L112.9,298.4 L115,298.4 L117.1,298.3 L119.2,298.3 L121.3,298.3 L123.4,298.2 L125.5,298.2 L127.7,298.2 L129.8,298.2 L131.9,298.1 L134,298.1 L136.1,298.1 L138.2,298.1 L140.3,298 L142.4,298 L144.5,298 L146.7,297.9 L148.8,297.9 L150.9,297.9 L153,297.9 L155.1,297.8 L157.2,297.8 L159.3,297.8 L161.4,297.7 L163.5,297.7 L165.6,297.7 L167.8,297.7 L169.9,297.6 L172,297.6 L174.1,297.6 L176.2,297.6 L178.3,297.5 L180.4,297.5 L182.5,297.5 L184.6,297.5 L186.8,297.5 L188.9,297.4 L191,297.4 L193.1,297.4 L195.2,297.4 L197.3,297.4 L199.4,297.4 L201.5,297.3 L203.6,297.3 L205.7,297.3 L207.9,297.3 L210,297.3 L212.1,297.3 L214.2,297.3 L216.3,297.2 L218.4,297.2 L220.5,297.2 L222.6,297.2 L224.7,297.2 L226.9,297.2 L229,297.2 L231.1,297.2 L233.2,297.2 L235.3,297.2 L237.4,297.2 L239.5,297.2 L241.6,297.2 L243.7,297.2 L245.8,297.2 L248,297.2 L250.1,297.2 L252.2,297.2 L254.3,297.2 L256.4,297.2 L258.5,297.2 L260.6,297.2 L262.7,297.3 L264.8,297.3 L267,297.3 L269.1,297.3 L271.2,297.3 L273.3,297.3 L275.4,297.3 L277.5,297.4 L279.6,297.4 L281.7,297.4 L283.8,297.4 L285.9,297.4 L288.1,297.4 L290.2,297.4 L292.3,297.4 L294.4,297.4 L296.5,297.4 L298.6,297.4 L300.7,297.4 L302.8,297.3 L304.9,297.3 L307.1,297.3 L309.2,297.3 L311.3,297.2 L313.4,297.2 L315.5,297.1 L317.6,297.1 L319.7,297 L321.8,297 L323.9,296.9 L326,296.9 L328.2,296.8 L330.3,296.7 L332.4,296.7 L334.5,296.6 L336.6,296.6 L338.7,296.6 L340.8,296.6 L342.9,296.7 L345,296.9 L347.2,297 L349.3,297.2 L351.4,297.4 L353.5,297.5 L355.6,297.7 L357.7,297.8 L359.8,297.8 L361.9,297.9 L364,297.9 L366.1,298 L368.3,298.1 L370.4,298.2 L372.5,298.4 L374.6,298.5 L374.6,298.5 Z" fill="#ffff00"/>
<polyline points="100.2,298.5 102.3,298.5 104.4,298.5 106.6,298.4 108.7,298.4 110.8,298.4 112.9,298.4 115,298.4 117.1,298.3 119.2,298.3 121.3,298.3 123.4,298.2 125.5,298.2 127.7,298.2 129.8,298.2 131.9,298.1 134,298.1 136.1,298.1 138.2,298.1 140.3,298 142.4,298 144.5,298 146.7,297.9 148.8,297.9 150.9,297.9 153,297.9 155.1,297.8 157.2,297.8 159.3,297.8 161.4,297.7 163.5,297.7 165.6,297.7 167.8,297.7 169.9,297.6 172,297.6 174.1,297.6 176.2,297.6 178.3,297.5 180.4,297.5 182.5,297.5 184.6,297.5 186.8,297.5 188.9,297.4 191,297.4 193.1,297.4 195.2,297.4 197.3,297.4 199.4,297.4 201.5,297.3 203.6,297.3 205.7,297.3 207.9,297.3 210,297.3 212.1,297.3 214.2,297.3 216.3,297.2 218.4,297.2 220.5,297.2 222.6,297.2 224.7,297.2 226.9,297.2 229,297.2 231.1,297.2 233.2,297.2 235.3,297.2 237.4,297.2 239.5,297.2 241.6,297.2 243.7,297.2 245.8,297.2 248,297.2 250.1,297.2 252.2,297.2 254.3,297.2 256.4,297.2 258.5,297.2 260.6,297.2 262.7,297.3 264.8,297.3 267,297.3 269.1,297.3 271.2,297.3 273.3,297.3 275.4,297.3 277.5,297.4 279.6,297.4 281.7,297.4 283.8,297.4 285.9,297.4 288.1,297.4 290.2,297.4 292.3,297.4 294.4,297.4 296.5,297.4 298.6,297.4 300.7,297.4 302.8,297.3 304.9,297.3 307.1,297.3 309.2,297.3 311.3,297.2 313.4,297.2 315.5,297.1 317.6,297.1 319.7,297 321.8,297 323.9,296.9 326,296.9 328.2,296.8 330.3,296.7 332.4,296.7 334.5,296.6 336.6,296.6 338.7,296.6 340.8,296.6 342.9,296.7 345,296.9 347.2,297 349.3,297.2 351.4,297.4 353.5,297.5 355.6,297.7 357.7,297.8 359.8,297.8 361.9,297.9 364,297.9 366.1,298 368.3,298.1 370.4,298.2 372.5,298.4 374.6,298.5" fill="none" stroke="#000" stroke-width="1" stroke-linejoin="round"/>
<path d="M96.5,301.5 L96.5,301.5 L98.6,301.5 L100.8,301.5 L102.9,301.5 L105,301.5 L107.1,301.5 L109.2,301.5 L111.3,301.5 L113.4,301.5 L115.5,301.5 L117.6,301.4 L119.8,301.4 L121.9,301.4 L124,301.4 L126.1,301.4 L128.2,301.4 L130.3,301.4 L132.4,301.4 L134.5,301.4 L136.6,301.4 L138.7,301.4 L140.9,301.4 L143,301.4 L145.1,301.4 L147.2,301.3 L149.3,301.3 L151.4,301.3 L153.5,301.3 L155.6,301.3 L157.7,301.3 L159.9,301.3 L162,301.3 L164.1,301.3 L166.2,301.3 L168.3,301.3 L170.4,301.3 L172.5,301.3 L174.6,301.3 L176.7,301.3 L178.8,301.3 L181,301.2 L183.1,301.2 L185.2,301.2 L187.3,301.2 L189.4,301.2 L191.5,301.2 L193.6,301.2 L195.7,301.2 L197.8,301.2 L200,301.2 L202.1,301.2 L204.2,301.2 L206.3,301.2 L208.4,301.2 L210.5,301.2 L212.6,301.2 L214.7,301.2 L216.8,301.2 L218.9,301.2 L221.1,301.2 L223.2,301.2 L225.3,301.2 L227.4,301.2 L229.5,301.2 L231.6,301.2 L233.7,301.2 L235.8,301.2 L237.9,301.2 L240.1,301.2 L242.2,301.2 L244.3,301.2 L246.4,301.2 L248.5,301.2 L250.6,301.2 L252.7,301.2 L254.8,301.2 L256.9,301.2 L259,301.2 L261.2,301.2 L263.3,301.2 L265.4,301.2 L267.5,301.3 L269.6,301.3 L271.7,301.3 L273.8,301.3 L275.9,301.3 L278,301.3 L280.2,301.3 L282.3,301.3 L284.4,301.3 L286.5,301.3 L288.6,301.4 L290.7,301.4 L292.8,301.4 L294.9,301.4 L297,301.4 L299.1,301.4 L301.3,301.4 L303.4,301.4 L305.5,301.4 L307.6,301.5 L309.7,301.5 L311.8,301.5 L313.9,301.5 L316,301.5 L318.1,301.5 L320.3,301.5 L322.4,301.5 L324.5,301.5 L326.6,301.5 L328.7,301.5 L330.8,301.5 L332.9,301.5 L335,301.5 L337.1,301.5 L339.2,301.5 L341.4,301.5 L343.5,301.5 L345.6,301.5 L347.7,301.5 L349.8,301.5 L351.9,301.5 L354,301.5 L356.1,301.5 L358.2,301.5 L360.3,301.5 L362.5,301.5 L364.6,301.5 L366.7,301.5 L368.8,301.5 L370.9,301.5 L370.9,301.5 Z" fill="#ffff00"/>
<polyline points="96.5,301.5 98.6,301.5 100.8,301.5 102.9,301.5 105,301.5 107.1,301.5 109.2,301.5 111.3,301.5 113.4,301.5 115.5,301.5 117.6,301.4 119.8,301.4 121.9,301.4 124,301.4 126.1,301.4 128.2,301.4 130.3,301.4 132.4,301.4 134.5,301.4 136.6,301.4 138.7,301.4 140.9,301.4 143,301.4 145.1,301.4 147.2,301.3 149.3,301.3 151.4,301.3 153.5,301.3 155.6,301.3 157.7,301.3 159.9,301.3 162,301.3 164.1,301.3 166.2,301.3 168.3,301.3 170.4,301.3 172.5,301.3 174.6,301.3 176.7,301.3 178.8,301.3 181,301.2 183.1,301.2 185.2,301.2 187.3,301.2 189.4,301.2 191.5,301.2 193.6,301.2 195.7,301.2 197.8,301.2 200,301.2 202.1,301.2 204.2,301.2 206.3,301.2 208.4,301.2 210.5,301.2 212.6,301.2 214.7,301.2 216.8,301.2 218.9,301.2 221.1,301.2 223.2,301.2 225.3,301.2 227.4,301.2 229.5,301.2 231.6,301.2 233.7,301.2 235.8,301.2 237.9,301.2 240.1,301.2 242.2,301.2 244.3,301.2 246.4,301.2 248.5,301.2 250.6,301.2 252.7,301.2 254.8,301.2 256.9,301.2 259,301.2 261.2,301.2 263.3,301.2 265.4,301.2 267.5,301.3 269.6,301.3 271.7,301.3 273.8,301.3 275.9,301.3 278,301.3 280.2,301.3 282.3,301.3 284.4,301.3 286.5,301.3 288.6,301.4 290.7,301.4 292.8,301.4 294.9,301.4 297,301.4 299.1,301.4 301.3,301.4 303.4,301.4 305.5,301.4 307.6,301.5 309.7,301.5 311.8,301.5 313.9,301.5 316,301.5 318.1,301.5 320.3,301.5 322.4,301.5 324.5,301.5 326.6,301.5 328.7,301.5 330.8,301.5 332.9,301.5 335,301.5 337.1,301.5 339.2,301.5 341.4,301.5 343.5,301.5 345.6,301.5 347.7,301.5 349.8,301.5 351.9,301.5 354,301.5 356.1,301.5 358.2,301.5 360.3,301.5 362.5,301.5 364.6,301.5 366.7,301.5 368.8,301.5 370.9,301.5" fill="none" stroke="#000" stroke-width="1" stroke-linejoin="round"/>
<path d="M92.9,304.5 L92.9,304.5 L367.2,304.5 L367.2,304.5 Z" fill="#ffff00"/>
<polyline points="92.9,304.5 367.2,304.5" fill="none" stroke="#000" stroke-width="1" stroke-linejoin="round"/>
<path d="M89.2,308.5 L89.2,308.5 L363.5,308.5 L363.5,308.5 Z" fill="#ffff00"/>
<polyline points="89.2,308.5 363.5,308.5" fill="none" stroke="#000" stroke-width="1" stroke-linejoin="round"/>
<path d="M85.5,311.5 L85.5,311.5 L359.8,311.5 L359.8,311.5 Z" fill="#ffff00"/>
<polyline points="85.5,311.5 359.8,311.5" fill="none" stroke="#000" stroke-width="1" stroke-linejoin="round"/>
<path d="M81.8,314.5 L81.8,314.5 L356.2,314.5 L356.2,314.5 Z" fill="#ffff00"/>
<polyline points="81.8,314.5 356.2,314.5" fill="none" stroke="#000" stroke-width="1" stroke-linejoin="round"/>
<path d="M78.1,318.5 L78.1,318.5 L352.5,318.5 L352.5,318.5 Z" fill="#ffff00"/>
<polyline points="78.1,318.5 352.5,318.5" fill="none" stroke="#000" stroke-width="1" stroke-linejoin="round"/>
<path d="M74.4,321.5 L74.4,321.5 L348.8,321.5 L348.8,321.5 Z" fill="#ffff00"/>
<polyline points="74.4,321.5 348.8,321.5" fill="none" stroke="#000" stroke-width="1" stroke-linejoin="round"/>
<path d="M70.7,324.5 L70.7,324.5 L345.1,324.5 L345.1,324.5 Z" fill="#ffff00"/>
<polyline points="70.7,324.5 345.1,324.5" fill="none" stroke="#000" stroke-width="1" stroke-linejoin="round"/>
<path d="M67.1,328.5 L67.1,328.5 L341.4,328.5 L341.4,328.5 Z" fill="#ffff00"/>
<polyline points="67.1,328.5 341.4,328.5" fill="none" stroke="#000" stroke-width="1" stroke-linejoin="round"/>
<path d="M63.4,331.5 L63.4,331.5 L337.7,331.5 L337.7,331.5 Z" fill="#ffff00"/>
<polyline points="63.4,331.5 337.7,331.5" fill="none" stroke="#000" stroke-width="1" stroke-linejoin="round"/>
<path d="M59.7,334.5 L59.7,334.5 L334.1,334.5 L334.1,334.5 Z" fill="#ffff00"/>
<polyline points="59.7,334.5 334.1,334.5" fill="none" stroke="#000" stroke-width="1" stroke-linejoin="round"/>
<path d="M56,338.5 L56,338.5 L330.4,338.5 L330.4,338.5 Z" fill="#ffff00"/>
<polyline points="56,338.5 330.4,338.5" fill="none" stroke="#000" stroke-width="1" stroke-linejoin="round"/>
<line x1="56.0" y1="338.0" x2="330.4" y2="338.0" stroke="#000" stroke-width="1.3"/>
<line x1="330.4" y1="338.0" x2="529.4" y2="158.5" stroke="#000" stroke-width="1.3"/>
<line x1="56.0" y1="338.0" x2="50.6" y2="343.2" stroke="#000" stroke-width="1.5"/>
<line x1="62.3" y1="338.0" x2="59.7" y2="340.5" stroke="#000" stroke-width="1.5"/>
<line x1="68.6" y1="338.0" x2="66.0" y2="340.5" stroke="#000" stroke-width="1.5"/>
<line x1="74.9" y1="338.0" x2="72.3" y2="340.5" stroke="#000" stroke-width="1.5"/>
<line x1="81.2" y1="338.0" x2="78.6" y2="340.5" stroke="#000" stroke-width="1.5"/>
<line x1="87.5" y1="338.0" x2="84.9" y2="340.5" stroke="#000" stroke-width="1.5"/>
<line x1="93.8" y1="338.0" x2="91.2" y2="340.5" stroke="#000" stroke-width="1.5"/>
<line x1="100.1" y1="338.0" x2="97.5" y2="340.5" stroke="#000" stroke-width="1.5"/>
<line x1="106.4" y1="338.0" x2="103.8" y2="340.5" stroke="#000" stroke-width="1.5"/>
<line x1="112.7" y1="338.0" x2="110.1" y2="340.5" stroke="#000" stroke-width="1.5"/>
<line x1="119.0" y1="338.0" x2="113.6" y2="343.2" stroke="#000" stroke-width="1.5"/>
<line x1="125.3" y1="338.0" x2="122.7" y2="340.5" stroke="#000" stroke-width="1.5"/>
<line x1="131.6" y1="338.0" x2="129.0" y2="340.5" stroke="#000" stroke-width="1.5"/>
<line x1="137.9" y1="338.0" x2="135.3" y2="340.5" stroke="#000" stroke-width="1.5"/>
<line x1="144.2" y1="338.0" x2="141.6" y2="340.5" stroke="#000" stroke-width="1.5"/>
<line x1="150.5" y1="338.0" x2="147.9" y2="340.5" stroke="#000" stroke-width="1.5"/>
<line x1="156.8" y1="338.0" x2="154.2" y2="340.5" stroke="#000" stroke-width="1.5"/>
<line x1="163.1" y1="338.0" x2="160.5" y2="340.5" stroke="#000" stroke-width="1.5"/>
<line x1="169.4" y1="338.0" x2="166.8" y2="340.5" stroke="#000" stroke-width="1.5"/>
<line x1="175.7" y1="338.0" x2="173.1" y2="340.5" stroke="#000" stroke-width="1.5"/>
<line x1="182.0" y1="338.0" x2="176.6" y2="343.2" stroke="#000" stroke-width="1.5"/>
<line x1="188.3" y1="338.0" x2="185.7" y2="340.5" stroke="#000" stroke-width="1.5"/>
<line x1="194.6" y1="338.0" x2="192.0" y2="340.5" stroke="#000" stroke-width="1.5"/>
<line x1="200.9" y1="338.0" x2="198.3" y2="340.5" stroke="#000" stroke-width="1.5"/>
<line x1="207.2" y1="338.0" x2="204.6" y2="340.5" stroke="#000" stroke-width="1.5"/>
<line x1="213.5" y1="338.0" x2="210.9" y2="340.5" stroke="#000" stroke-width="1.5"/>
<line x1="219.8" y1="338.0" x2="217.2" y2="340.5" stroke="#000" stroke-width="1.5"/>
<line x1="226.1" y1="338.0" x2="223.5" y2="340.5" stroke="#000" stroke-width="1.5"/>
<line x1="232.4" y1="338.0" x2="229.8" y2="340.5" stroke="#000" stroke-width="1.5"/>
<line x1="238.7" y1="338.0" x2="236.1" y2="340.5" stroke="#000" stroke-width="1.5"/>
<line x1="245.0" y1="338.0" x2="239.6" y2="343.2" stroke="#000" stroke-width="1.5"/>
<line x1="251.3" y1="338.0" x2="248.7" y2="340.5" stroke="#000" stroke-width="1.5"/>
<line x1="257.6" y1="338.0" x2="255.0" y2="340.5" stroke="#000" stroke-width="1.5"/>
<line x1="263.9" y1="338.0" x2="261.3" y2="340.5" stroke="#000" stroke-width="1.5"/>
<line x1="270.2" y1="338.0" x2="267.6" y2="340.5" stroke="#000" stroke-width="1.5"/>
<line x1="276.5" y1="338.0" x2="273.9" y2="340.5" stroke="#000" stroke-width="1.5"/>
<line x1="282.8" y1="338.0" x2="280.2" y2="340.5" stroke="#000" stroke-width="1.5"/>
<line x1="289.1" y1="338.0" x2="286.5" y2="340.5" stroke="#000" stroke-width="1.5"/>
<line x1="295.4" y1="338.0" x2="292.8" y2="340.5" stroke="#000" stroke-width="1.5"/>
<line x1="301.7" y1="338.0" x2="299.1" y2="340.5" stroke="#000" stroke-width="1.5"/>
<line x1="308.0" y1="338.0" x2="302.6" y2="343.2" stroke="#000" stroke-width="1.5"/>
<line x1="314.3" y1="338.0" x2="311.7" y2="340.5" stroke="#000" stroke-width="1.5"/>
<line x1="320.6" y1="338.0" x2="318.0" y2="340.5" stroke="#000" stroke-width="1.5"/>
<line x1="326.9" y1="338.0" x2="324.3" y2="340.5" stroke="#000" stroke-width="1.5"/>
<line x1="330.4" y1="338.0" x2="338.4" y2="338.0" stroke="#000" stroke-width="1.5"/>
<line x1="346.9" y1="323.0" x2="350.9" y2="323.0" stroke="#000" stroke-width="1.5"/>
<line x1="363.5" y1="308.1" x2="371.5" y2="308.1" stroke="#000" stroke-width="1.5"/>
<line x1="380.1" y1="293.1" x2="384.1" y2="293.1" stroke="#000" stroke-width="1.5"/>
<line x1="396.7" y1="278.2" x2="404.7" y2="278.2" stroke="#000" stroke-width="1.5"/>
<line x1="413.3" y1="263.2" x2="417.3" y2="263.2" stroke="#000" stroke-width="1.5"/>
<line x1="429.9" y1="248.2" x2="437.9" y2="248.2" stroke="#000" stroke-width="1.5"/>
<line x1="446.4" y1="233.3" x2="450.4" y2="233.3" stroke="#000" stroke-width="1.5"/>
<line x1="463.0" y1="218.3" x2="471.0" y2="218.3" stroke="#000" stroke-width="1.5"/>
<line x1="479.6" y1="203.4" x2="483.6" y2="203.4" stroke="#000" stroke-width="1.5"/>
<line x1="496.2" y1="188.4" x2="504.2" y2="188.4" stroke="#000" stroke-width="1.5"/>
<line x1="512.8" y1="173.5" x2="516.8" y2="173.5" stroke="#000" stroke-width="1.5"/>
<line x1="529.4" y1="158.5" x2="537.4" y2="158.5" stroke="#000" stroke-width="1.5"/>
<line x1="56.0" y1="338.0" x2="50.2" y2="343.8" stroke="#000" stroke-width="1.5"/>
<line x1="56.0" y1="305.7" x2="52.8" y2="308.9" stroke="#000" stroke-width="1.5"/>
<line x1="56.0" y1="273.4" x2="50.2" y2="279.2" stroke="#000" stroke-width="1.5"/>
<line x1="56.0" y1="241.1" x2="52.8" y2="244.3" stroke="#000" stroke-width="1.5"/>
<line x1="56.0" y1="208.8" x2="50.2" y2="214.6" stroke="#000" stroke-width="1.5"/>
<text x="47" y="352.5" font-size="28" class="r" text-anchor="end">0</text>
<text x="47" y="287.9" font-size="28" class="r" text-anchor="end">1</text>
<text x="47" y="223.3" font-size="28" class="r" text-anchor="end">2</text>
<text x="59.8" y="369" font-size="28" class="r" text-anchor="middle">0</text>
<text x="114.5" y="369" font-size="28" class="r" text-anchor="middle">20</text>
<text x="178" y="369" font-size="28" class="r" text-anchor="middle">40</text>
<text x="241" y="369" font-size="28" class="r" text-anchor="middle">60</text>
<text x="303.6" y="369" font-size="28" class="r" text-anchor="middle">80</text>
<text x="335.4" y="359.3" font-size="28" class="r">0</text>
<text x="368.5" y="329.4" font-size="28" class="r">500</text>
<text x="401.7" y="299.5" font-size="28" class="r">1000</text>
<text x="434.9" y="269.6" font-size="28" class="r">1500</text>
<text x="468.0" y="239.6" font-size="28" class="r">2000</text>
<text x="501.2" y="209.7" font-size="28" class="r">2500</text>
<text x="534.4" y="179.8" font-size="28" class="r">3000</text>
<text x="3.8" y="166.7" font-size="28" class="r">X10</text>
<text x="56.3" y="151" font-size="16" class="r">-6</text>
<text x="148.5" y="411" font-size="38" font-weight="bold" font-style="italic">Z, km</text>
<text transform="translate(491.5,317.8) rotate(-42)" font-size="38" font-weight="bold" font-style="italic" letter-spacing="0.7">Y, km</text>
<text x="104.5" y="65.2" font-size="38" stroke="#000" stroke-width="0.7">|</text>
<text x="153.6" y="65.2" font-size="38" stroke="#000" stroke-width="0.9">|</text>
<text x="115.4" y="65.2" font-size="38" font-weight="bold" font-style="italic" stroke="#000" stroke-width="0.4">E</text>
<text x="140.6" y="79.7" font-size="23.5" font-weight="bold" font-style="italic" stroke="#000" stroke-width="0.3">y</text>
</svg></body></html>
